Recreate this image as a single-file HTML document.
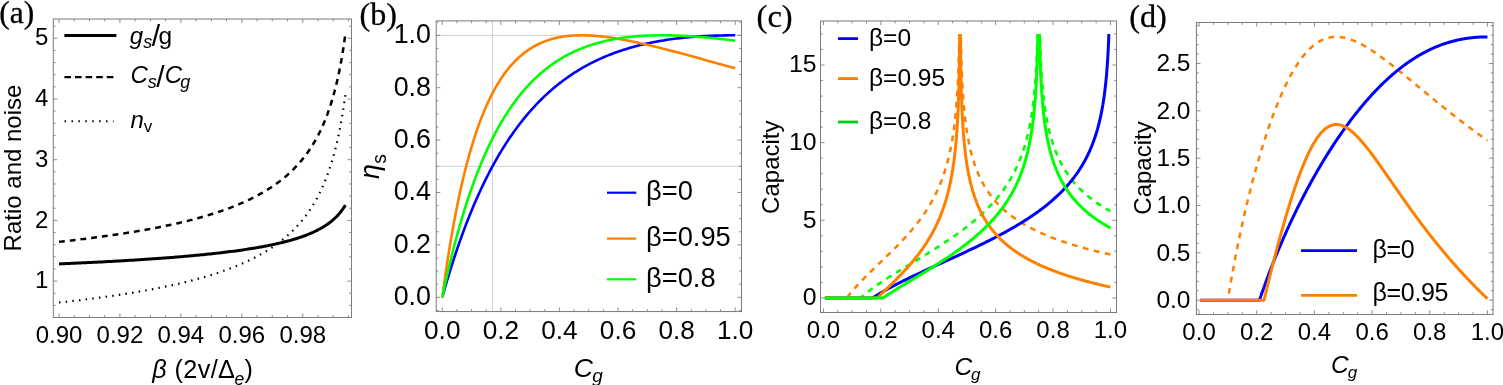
<!DOCTYPE html>
<html><head><meta charset="utf-8"><title>Figure</title>
<style>
html,body{margin:0;padding:0;background:#fff;}
body{width:1503px;height:385px;overflow:hidden;}
svg{display:block;}
svg text{font-family:"Liberation Sans", Arial, Helvetica, sans-serif;fill:#000;}
svg text.pl{font-family:"Liberation Serif", "Times New Roman", Times, serif;stroke:#000;stroke-width:0.3px;}
</style></head><body>
<svg width="1503" height="385" viewBox="0 0 1503 385">
<rect width="1503" height="385" fill="#fff"/>
<rect x="53.3" y="19" width="298.2" height="298.5" fill="none" stroke="#7b7b7b" stroke-width="1.0"/>
<path d="M59 317.5v-4.1M59 19v4.1M74.23 317.5v-2.4M74.23 19v2.4M89.47 317.5v-2.4M89.47 19v2.4M104.7 317.5v-2.4M104.7 19v2.4M119.94 317.5v-4.1M119.94 19v4.1M135.17 317.5v-2.4M135.17 19v2.4M150.41 317.5v-2.4M150.41 19v2.4M165.64 317.5v-2.4M165.64 19v2.4M180.88 317.5v-4.1M180.88 19v4.1M196.11 317.5v-2.4M196.11 19v2.4M211.34 317.5v-2.4M211.34 19v2.4M226.58 317.5v-2.4M226.58 19v2.4M241.81 317.5v-4.1M241.81 19v4.1M257.05 317.5v-2.4M257.05 19v2.4M272.28 317.5v-2.4M272.28 19v2.4M287.52 317.5v-2.4M287.52 19v2.4M302.75 317.5v-4.1M302.75 19v4.1M317.98 317.5v-2.4M317.98 19v2.4M333.22 317.5v-2.4M333.22 19v2.4M348.45 317.5v-2.4M348.45 19v2.4" stroke="#7b7b7b" stroke-width="0.85" fill="none"/>
<path d="M53.3 305.38h2.4M351.5 305.38h-2.4M53.3 293.24h2.4M351.5 293.24h-2.4M53.3 281.1h4.1M351.5 281.1h-4.1M53.3 268.96h2.4M351.5 268.96h-2.4M53.3 256.82h2.4M351.5 256.82h-2.4M53.3 244.68h2.4M351.5 244.68h-2.4M53.3 232.54h2.4M351.5 232.54h-2.4M53.3 220.4h4.1M351.5 220.4h-4.1M53.3 208.26h2.4M351.5 208.26h-2.4M53.3 196.12h2.4M351.5 196.12h-2.4M53.3 183.98h2.4M351.5 183.98h-2.4M53.3 171.84h2.4M351.5 171.84h-2.4M53.3 159.7h4.1M351.5 159.7h-4.1M53.3 147.56h2.4M351.5 147.56h-2.4M53.3 135.42h2.4M351.5 135.42h-2.4M53.3 123.28h2.4M351.5 123.28h-2.4M53.3 111.14h2.4M351.5 111.14h-2.4M53.3 99h4.1M351.5 99h-4.1M53.3 86.86h2.4M351.5 86.86h-2.4M53.3 74.72h2.4M351.5 74.72h-2.4M53.3 62.58h2.4M351.5 62.58h-2.4M53.3 50.44h2.4M351.5 50.44h-2.4M53.3 38.3h4.1M351.5 38.3h-4.1M53.3 26.16h2.4M351.5 26.16h-2.4" stroke="#7b7b7b" stroke-width="0.85" fill="none"/>
<text x="59" y="342.9" text-anchor="middle" font-size="24">0.90</text>
<text x="119.94" y="342.9" text-anchor="middle" font-size="24">0.92</text>
<text x="180.87" y="342.9" text-anchor="middle" font-size="24">0.94</text>
<text x="241.81" y="342.9" text-anchor="middle" font-size="24">0.96</text>
<text x="302.75" y="342.9" text-anchor="middle" font-size="24">0.98</text>
<text x="48.4" y="288.2" text-anchor="end" font-size="24">1</text>
<text x="48.4" y="227.5" text-anchor="end" font-size="24">2</text>
<text x="48.4" y="166.8" text-anchor="end" font-size="24">3</text>
<text x="48.4" y="106.1" text-anchor="end" font-size="24">4</text>
<text x="48.4" y="45.4" text-anchor="end" font-size="24">5</text>
<path d="M59 263.9L60.8 263.82L62.6 263.75L64.4 263.67L66.21 263.59L68.01 263.51L69.81 263.43L71.61 263.35L73.41 263.27L75.21 263.19L77.01 263.11L78.81 263.02L80.62 262.94L82.42 262.86L84.22 262.77L86.02 262.68L87.82 262.6L89.62 262.51L91.42 262.42L93.22 262.33L95.03 262.24L96.83 262.15L98.63 262.06L100.43 261.97L102.23 261.88L104.03 261.78L105.83 261.69L107.64 261.59L109.44 261.5L111.24 261.4L113.04 261.3L114.84 261.2L116.64 261.1L118.44 261L120.24 260.89L122.05 260.79L123.85 260.69L125.65 260.58L127.45 260.47L129.25 260.37L131.05 260.26L132.85 260.15L134.65 260.04L136.46 259.92L138.26 259.81L140.06 259.69L141.86 259.58L143.66 259.46L145.46 259.34L147.26 259.22L149.06 259.1L150.87 258.98L152.67 258.85L154.47 258.73L156.27 258.6L158.07 258.47L159.87 258.34L161.67 258.21L163.48 258.08L165.28 257.94L167.08 257.81L168.88 257.67L170.68 257.53L172.48 257.39L174.28 257.24L176.08 257.1L177.89 256.95L179.69 256.8L181.49 256.65L183.29 256.5L185.09 256.34L186.89 256.18L188.69 256.02L190.49 255.86L192.3 255.7L194.1 255.53L195.9 255.36L197.7 255.19L199.5 255.02L201.3 254.84L203.1 254.66L204.91 254.48L206.71 254.3L208.51 254.11L210.31 253.92L212.11 253.73L213.91 253.53L215.71 253.33L217.51 253.13L219.32 252.92L221.12 252.72L222.92 252.5L224.72 252.29L226.52 252.07L228.32 251.84L230.12 251.61L231.92 251.38L233.73 251.15L235.53 250.91L237.33 250.66L239.13 250.41L240.93 250.16L242.73 249.9L244.53 249.63L246.33 249.36L248.14 249.09L249.94 248.81L251.74 248.52L253.54 248.22L255.34 247.93L257.14 247.62L258.94 247.31L260.75 246.99L262.55 246.66L264.35 246.32L266.15 245.98L267.95 245.63L269.75 245.26L271.55 244.89L273.35 244.51L275.16 244.12L276.96 243.72L278.76 243.31L280.56 242.89L282.36 242.46L284.16 242.01L285.96 241.55L287.76 241.07L289.57 240.58L291.37 240.07L293.17 239.55L294.97 239.01L296.77 238.45L298.57 237.87L300.37 237.27L302.18 236.65L303.98 236L305.78 235.33L307.58 234.63L309.38 233.9L311.18 233.13L312.98 232.34L314.78 231.5L316.59 230.62L318.39 229.7L320.19 228.74L321.99 227.71L323.79 226.63L325.59 225.49L327.39 224.27L329.19 222.97L331 221.58L332.8 220.09L334.6 218.49L336.4 216.75L338.2 214.85L340 212.78L341.8 210.5L343.6 207.96L345.41 205.11" fill="none" stroke="#000" stroke-width="3.0" stroke-linejoin="round" stroke-linecap="butt"/>
<path d="M59 241.82L60.8 241.63L62.6 241.43L64.4 241.23L66.21 241.03L68.01 240.82L69.81 240.62L71.61 240.41L73.41 240.2L75.21 239.99L77.01 239.78L78.81 239.56L80.62 239.35L82.42 239.13L84.22 238.91L86.02 238.68L87.82 238.46L89.62 238.23L91.42 238L93.22 237.77L95.03 237.53L96.83 237.29L98.63 237.05L100.43 236.81L102.23 236.57L104.03 236.32L105.83 236.07L107.64 235.81L109.44 235.56L111.24 235.3L113.04 235.04L114.84 234.77L116.64 234.51L118.44 234.24L120.24 233.96L122.05 233.69L123.85 233.41L125.65 233.13L127.45 232.84L129.25 232.55L131.05 232.26L132.85 231.96L134.65 231.66L136.46 231.36L138.26 231.05L140.06 230.74L141.86 230.43L143.66 230.11L145.46 229.78L147.26 229.46L149.06 229.13L150.87 228.79L152.67 228.45L154.47 228.11L156.27 227.76L158.07 227.41L159.87 227.05L161.67 226.69L163.48 226.32L165.28 225.95L167.08 225.57L168.88 225.19L170.68 224.8L172.48 224.41L174.28 224.01L176.08 223.6L177.89 223.19L179.69 222.77L181.49 222.35L183.29 221.92L185.09 221.48L186.89 221.04L188.69 220.59L190.49 220.13L192.3 219.67L194.1 219.19L195.9 218.71L197.7 218.23L199.5 217.73L201.3 217.23L203.1 216.71L204.91 216.19L206.71 215.66L208.51 215.12L210.31 214.57L212.11 214.01L213.91 213.44L215.71 212.86L217.51 212.27L219.32 211.67L221.12 211.06L222.92 210.43L224.72 209.8L226.52 209.15L228.32 208.48L230.12 207.81L231.92 207.12L233.73 206.41L235.53 205.69L237.33 204.96L239.13 204.21L240.93 203.44L242.73 202.65L244.53 201.85L246.33 201.03L248.14 200.19L249.94 199.33L251.74 198.45L253.54 197.54L255.34 196.62L257.14 195.67L258.94 194.7L260.75 193.7L262.55 192.67L264.35 191.62L266.15 190.53L267.95 189.42L269.75 188.27L271.55 187.09L273.35 185.88L275.16 184.63L276.96 183.34L278.76 182L280.56 180.63L282.36 179.21L284.16 177.74L285.96 176.22L287.76 174.64L289.57 173.01L291.37 171.32L293.17 169.56L294.97 167.74L296.77 165.84L298.57 163.86L300.37 161.8L302.18 159.64L303.98 157.39L305.78 155.04L307.58 152.57L309.38 149.98L311.18 147.26L312.98 144.39L314.78 141.37L316.59 138.17L318.39 134.79L320.19 131.2L321.99 127.37L323.79 123.29L325.59 118.92L327.39 114.23L329.19 109.18L331 103.71L332.8 97.77L334.6 91.29L336.4 84.17L338.2 76.31L340 67.57L341.8 57.77L343.6 46.67L345.41 33.98" fill="none" stroke="#000" stroke-width="2.5" stroke-linejoin="round" stroke-linecap="butt" stroke-dasharray="5.8 5"/>
<path d="M59 302.52L60.8 302.33L62.6 302.13L64.4 301.93L66.21 301.73L68.01 301.52L69.81 301.32L71.61 301.11L73.41 300.9L75.21 300.69L77.01 300.48L78.81 300.26L80.62 300.05L82.42 299.83L84.22 299.61L86.02 299.38L87.82 299.16L89.62 298.93L91.42 298.7L93.22 298.47L95.03 298.23L96.83 297.99L98.63 297.75L100.43 297.51L102.23 297.27L104.03 297.02L105.83 296.77L107.64 296.51L109.44 296.26L111.24 296L113.04 295.74L114.84 295.47L116.64 295.21L118.44 294.94L120.24 294.66L122.05 294.39L123.85 294.11L125.65 293.83L127.45 293.54L129.25 293.25L131.05 292.96L132.85 292.66L134.65 292.36L136.46 292.06L138.26 291.75L140.06 291.44L141.86 291.13L143.66 290.81L145.46 290.48L147.26 290.16L149.06 289.83L150.87 289.49L152.67 289.15L154.47 288.81L156.27 288.46L158.07 288.11L159.87 287.75L161.67 287.39L163.48 287.02L165.28 286.65L167.08 286.27L168.88 285.89L170.68 285.5L172.48 285.11L174.28 284.71L176.08 284.3L177.89 283.89L179.69 283.47L181.49 283.05L183.29 282.62L185.09 282.18L186.89 281.74L188.69 281.29L190.49 280.83L192.3 280.37L194.1 279.89L195.9 279.41L197.7 278.93L199.5 278.43L201.3 277.93L203.1 277.41L204.91 276.89L206.71 276.36L208.51 275.82L210.31 275.27L212.11 274.71L213.91 274.14L215.71 273.56L217.51 272.97L219.32 272.37L221.12 271.76L222.92 271.13L224.72 270.5L226.52 269.85L228.32 269.18L230.12 268.51L231.92 267.82L233.73 267.11L235.53 266.39L237.33 265.66L239.13 264.91L240.93 264.14L242.73 263.35L244.53 262.55L246.33 261.73L248.14 260.89L249.94 260.03L251.74 259.15L253.54 258.24L255.34 257.32L257.14 256.37L258.94 255.4L260.75 254.4L262.55 253.37L264.35 252.32L266.15 251.23L267.95 250.12L269.75 248.97L271.55 247.79L273.35 246.58L275.16 245.33L276.96 244.04L278.76 242.7L280.56 241.33L282.36 239.91L284.16 238.44L285.96 236.92L287.76 235.34L289.57 233.71L291.37 232.02L293.17 230.26L294.97 228.44L296.77 226.54L298.57 224.56L300.37 222.5L302.18 220.34L303.98 218.09L305.78 215.74L307.58 213.27L309.38 210.68L311.18 207.96L312.98 205.09L314.78 202.07L316.59 198.87L318.39 195.49L320.19 191.9L321.99 188.07L323.79 183.99L325.59 179.62L327.39 174.93L329.19 169.88L331 164.41L332.8 158.47L334.6 151.99L336.4 144.87L338.2 137.01L340 128.27L341.8 118.47L343.6 107.37L345.41 94.68" fill="none" stroke="#000" stroke-width="2.2" stroke-linejoin="round" stroke-linecap="butt" stroke-dasharray="1.5 5.2"/>
<path d="M64.4 35.4L116.4 35.4" stroke="#000" stroke-width="3.0" fill="none"/>
<path d="M64.4 77.1L113.6 77.1" stroke="#000" stroke-width="2.3" fill="none" stroke-dasharray="6.6 4"/>
<path d="M64.6 121.3L113.6 121.3" stroke="#000" stroke-width="2.1" fill="none" stroke-dasharray="1.5 5.4"/>
<text x="129.8" y="43.5" font-size="24" text-anchor="start"><tspan font-style="italic">g</tspan><tspan font-style="italic" font-size="18" dy="4.5">s</tspan><tspan font-size="30" dy="-2.4" dx="-0.3">/</tspan><tspan font-size="24.5" dy="-2.1" dx="-1.6">g</tspan></text>
<text x="130.5" y="83" font-size="24" text-anchor="start"><tspan font-style="italic">C</tspan><tspan font-style="italic" font-size="18" dy="4.8">s</tspan><tspan font-size="30" dy="-1.0" dx="-0.6">/</tspan><tspan font-style="italic" dy="-3.8" dx="0.2">C</tspan><tspan font-style="italic" font-size="18" dy="4.8" dx="-1.9">g</tspan></text>
<text x="130.5" y="127.6" font-size="24" text-anchor="start"><tspan font-style="italic">n</tspan><tspan font-size="17" dy="4.6">v</tspan></text>
<text x="152.3" y="378" font-size="25.2" text-anchor="start" letter-spacing="0.4"><tspan font-style="italic">β</tspan> (2v/Δ<tspan font-style="italic" font-size="17.5" dy="6.5" dx="-0.9">e</tspan><tspan dy="-6.5">)</tspan></text>
<text transform="translate(21.3,168) rotate(-90)" font-size="24" text-anchor="middle">Ratio and noise</text>
<text x="-0.8" y="22.6" font-size="31.5" text-anchor="start" class="pl">(a)</text>
<path d="M492.51 20.9L492.51 311.55" stroke="#c4c4c4" stroke-width="0.8" fill="none"/>
<path d="M436.2 166.3L741.5 166.3" stroke="#c4c4c4" stroke-width="0.8" fill="none"/>
<path d="M436.2 35.3L741.5 35.3" stroke="#c4c4c4" stroke-width="0.8" fill="none"/>
<rect x="436.2" y="20.9" width="305.3" height="290.65" fill="none" stroke="#7b7b7b" stroke-width="1.0"/>
<path d="M442.25 311.55v-4.1M442.25 20.9v4.1M456.9 311.55v-2.4M456.9 20.9v2.4M471.55 311.55v-2.4M471.55 20.9v2.4M486.19 311.55v-2.4M486.19 20.9v2.4M500.84 311.55v-4.1M500.84 20.9v4.1M515.49 311.55v-2.4M515.49 20.9v2.4M530.13 311.55v-2.4M530.13 20.9v2.4M544.78 311.55v-2.4M544.78 20.9v2.4M559.43 311.55v-4.1M559.43 20.9v4.1M574.08 311.55v-2.4M574.08 20.9v2.4M588.73 311.55v-2.4M588.73 20.9v2.4M603.37 311.55v-2.4M603.37 20.9v2.4M618.02 311.55v-4.1M618.02 20.9v4.1M632.67 311.55v-2.4M632.67 20.9v2.4M647.32 311.55v-2.4M647.32 20.9v2.4M661.96 311.55v-2.4M661.96 20.9v2.4M676.61 311.55v-4.1M676.61 20.9v4.1M691.26 311.55v-2.4M691.26 20.9v2.4M705.9 311.55v-2.4M705.9 20.9v2.4M720.55 311.55v-2.4M720.55 20.9v2.4M735.2 311.55v-4.1M735.2 20.9v4.1" stroke="#7b7b7b" stroke-width="0.85" fill="none"/>
<path d="M436.2 310.4h2.4M741.5 310.4h-2.4M436.2 297.3h4.1M741.5 297.3h-4.1M436.2 284.2h2.4M741.5 284.2h-2.4M436.2 271.1h2.4M741.5 271.1h-2.4M436.2 258h2.4M741.5 258h-2.4M436.2 244.9h4.1M741.5 244.9h-4.1M436.2 231.8h2.4M741.5 231.8h-2.4M436.2 218.7h2.4M741.5 218.7h-2.4M436.2 205.6h2.4M741.5 205.6h-2.4M436.2 192.5h4.1M741.5 192.5h-4.1M436.2 179.4h2.4M741.5 179.4h-2.4M436.2 166.3h2.4M741.5 166.3h-2.4M436.2 153.2h2.4M741.5 153.2h-2.4M436.2 140.1h4.1M741.5 140.1h-4.1M436.2 127h2.4M741.5 127h-2.4M436.2 113.9h2.4M741.5 113.9h-2.4M436.2 100.8h2.4M741.5 100.8h-2.4M436.2 87.7h4.1M741.5 87.7h-4.1M436.2 74.6h2.4M741.5 74.6h-2.4M436.2 61.5h2.4M741.5 61.5h-2.4M436.2 48.4h2.4M741.5 48.4h-2.4M436.2 35.3h4.1M741.5 35.3h-4.1M436.2 22.2h2.4M741.5 22.2h-2.4" stroke="#7b7b7b" stroke-width="0.85" fill="none"/>
<text x="442.25" y="338.8" text-anchor="middle" font-size="26.2">0.0</text>
<text x="500.84" y="338.8" text-anchor="middle" font-size="26.2">0.2</text>
<text x="559.43" y="338.8" text-anchor="middle" font-size="26.2">0.4</text>
<text x="618.02" y="338.8" text-anchor="middle" font-size="26.2">0.6</text>
<text x="676.61" y="338.8" text-anchor="middle" font-size="26.2">0.8</text>
<text x="735.2" y="338.8" text-anchor="middle" font-size="26.2">1.0</text>
<text x="430.9" y="305.1" text-anchor="end" font-size="26.8">0.0</text>
<text x="430.9" y="252.7" text-anchor="end" font-size="26.8">0.2</text>
<text x="430.9" y="200.3" text-anchor="end" font-size="26.8">0.4</text>
<text x="430.9" y="147.9" text-anchor="end" font-size="26.8">0.6</text>
<text x="430.9" y="95.5" text-anchor="end" font-size="26.8">0.8</text>
<text x="430.9" y="43.1" text-anchor="end" font-size="26.8">1.0</text>
<path d="M442.25 297.3L444.09 290.79L445.93 284.44L447.78 278.25L449.62 272.21L451.46 266.32L453.3 260.58L455.15 254.97L456.99 249.5L458.83 244.16L460.67 238.96L462.52 233.88L464.36 228.92L466.2 224.08L468.04 219.35L469.89 214.74L471.73 210.24L473.57 205.85L475.41 201.56L477.26 197.38L479.1 193.29L480.94 189.3L482.78 185.4L484.63 181.6L486.47 177.88L488.31 174.26L490.15 170.71L492 167.25L493.84 163.88L495.68 160.58L497.52 157.36L499.37 154.21L501.21 151.14L503.05 148.13L504.89 145.2L506.74 142.34L508.58 139.54L510.42 136.81L512.26 134.14L514.11 131.54L515.95 128.99L517.79 126.5L519.63 124.07L521.48 121.7L523.32 119.38L525.16 117.12L527 114.91L528.85 112.75L530.69 110.64L532.53 108.58L534.37 106.56L536.22 104.6L538.06 102.68L539.9 100.8L541.74 98.97L543.58 97.18L545.43 95.43L547.27 93.72L549.11 92.06L550.95 90.43L552.8 88.84L554.64 87.29L556.48 85.77L558.32 84.29L560.17 82.85L562.01 81.44L563.85 80.06L565.69 78.72L567.54 77.4L569.38 76.12L571.22 74.87L573.06 73.65L574.91 72.46L576.75 71.3L578.59 70.17L580.43 69.06L582.28 67.98L584.12 66.93L585.96 65.9L587.8 64.9L589.65 63.93L591.49 62.97L593.33 62.05L595.17 61.14L597.02 60.26L598.86 59.4L600.7 58.56L602.54 57.74L604.39 56.95L606.23 56.17L608.07 55.42L609.91 54.68L611.76 53.97L613.6 53.27L615.44 52.59L617.28 51.93L619.13 51.29L620.97 50.67L622.81 50.06L624.65 49.47L626.5 48.9L628.34 48.34L630.18 47.8L632.02 47.27L633.87 46.76L635.71 46.26L637.55 45.78L639.39 45.31L641.23 44.86L643.08 44.42L644.92 43.99L646.76 43.58L648.6 43.18L650.45 42.79L652.29 42.42L654.13 42.06L655.97 41.71L657.82 41.37L659.66 41.04L661.5 40.72L663.34 40.42L665.19 40.13L667.03 39.84L668.87 39.57L670.71 39.31L672.56 39.06L674.4 38.81L676.24 38.58L678.08 38.36L679.93 38.14L681.77 37.94L683.61 37.74L685.45 37.56L687.3 37.38L689.14 37.21L690.98 37.05L692.82 36.89L694.67 36.75L696.51 36.61L698.35 36.48L700.19 36.36L702.04 36.24L703.88 36.14L705.72 36.04L707.56 35.94L709.41 35.86L711.25 35.78L713.09 35.7L714.93 35.64L716.78 35.58L718.62 35.52L720.46 35.47L722.3 35.43L724.15 35.4L725.99 35.37L727.83 35.34L729.67 35.32L731.52 35.31L733.36 35.3L735.2 35.3" fill="none" stroke="#0000ff" stroke-width="2.6" stroke-linejoin="round" stroke-linecap="butt"/>
<path d="M442.25 297.3L444.09 283.81L445.93 271.01L447.78 258.86L449.62 247.32L451.46 236.37L453.3 225.96L455.15 216.07L456.99 206.68L458.83 197.74L460.67 189.25L462.52 181.17L464.36 173.49L466.2 166.18L468.04 159.22L469.89 152.6L471.73 146.31L473.57 140.31L475.41 134.61L477.26 129.18L479.1 124.01L480.94 119.09L482.78 114.41L484.63 109.95L486.47 105.71L488.31 101.67L490.15 97.83L492 94.17L493.84 90.69L495.68 87.39L497.52 84.24L499.37 81.24L501.21 78.4L503.05 75.69L504.89 73.12L506.74 70.68L508.58 68.36L510.42 66.16L512.26 64.07L514.11 62.09L515.95 60.21L517.79 58.43L519.63 56.75L521.48 55.16L523.32 53.65L525.16 52.22L527 50.88L528.85 49.61L530.69 48.41L532.53 47.29L534.37 46.23L536.22 45.24L538.06 44.3L539.9 43.43L541.74 42.62L543.58 41.85L545.43 41.15L547.27 40.49L549.11 39.88L550.95 39.31L552.8 38.79L554.64 38.32L556.48 37.88L558.32 37.49L560.17 37.13L562.01 36.81L563.85 36.52L565.69 36.27L567.54 36.05L569.38 35.86L571.22 35.7L573.06 35.57L574.91 35.46L576.75 35.38L578.59 35.33L580.43 35.31L582.28 35.3L584.12 35.32L585.96 35.36L587.8 35.42L589.65 35.5L591.49 35.6L593.33 35.72L595.17 35.86L597.02 36.01L598.86 36.18L600.7 36.37L602.54 36.57L604.39 36.79L606.23 37.02L608.07 37.26L609.91 37.52L611.76 37.79L613.6 38.07L615.44 38.36L617.28 38.66L619.13 38.98L620.97 39.3L622.81 39.63L624.65 39.97L626.5 40.33L628.34 40.69L630.18 41.06L632.02 41.43L633.87 41.81L635.71 42.21L637.55 42.6L639.39 43.01L641.23 43.42L643.08 43.84L644.92 44.26L646.76 44.69L648.6 45.12L650.45 45.56L652.29 46L654.13 46.45L655.97 46.9L657.82 47.36L659.66 47.82L661.5 48.28L663.34 48.75L665.19 49.22L667.03 49.69L668.87 50.17L670.71 50.65L672.56 51.13L674.4 51.62L676.24 52.11L678.08 52.6L679.93 53.09L681.77 53.58L683.61 54.08L685.45 54.58L687.3 55.08L689.14 55.58L690.98 56.08L692.82 56.59L694.67 57.09L696.51 57.6L698.35 58.1L700.19 58.61L702.04 59.12L703.88 59.63L705.72 60.14L707.56 60.65L709.41 61.16L711.25 61.68L713.09 62.19L714.93 62.7L716.78 63.21L718.62 63.73L720.46 64.24L722.3 64.75L724.15 65.26L725.99 65.78L727.83 66.29L729.67 66.8L731.52 67.31L733.36 67.83L735.2 68.34" fill="none" stroke="#ff8000" stroke-width="2.6" stroke-linejoin="round" stroke-linecap="butt"/>
<path d="M442.25 297.3L444.09 288.66L445.93 280.3L447.78 272.21L449.62 264.39L451.46 256.82L453.3 249.5L455.15 242.41L456.99 235.56L458.83 228.92L460.67 222.49L462.52 216.27L464.36 210.24L466.2 204.41L468.04 198.76L469.89 193.29L471.73 187.99L473.57 182.86L475.41 177.88L477.26 173.07L479.1 168.4L480.94 163.88L482.78 159.49L484.63 155.25L486.47 151.14L488.31 147.15L490.15 143.29L492 139.54L493.84 135.91L495.68 132.4L497.52 128.99L499.37 125.69L501.21 122.48L503.05 119.38L504.89 116.38L506.74 113.46L508.58 110.64L510.42 107.9L512.26 105.25L514.11 102.68L515.95 100.18L517.79 97.77L519.63 95.43L521.48 93.16L523.32 90.97L525.16 88.84L527 86.78L528.85 84.78L530.69 82.85L532.53 80.98L534.37 79.16L536.22 77.4L538.06 75.7L539.9 74.06L541.74 72.46L543.58 70.92L545.43 69.43L547.27 67.98L549.11 66.59L550.95 65.23L552.8 63.93L554.64 62.66L556.48 61.44L558.32 60.26L560.17 59.12L562.01 58.01L563.85 56.95L565.69 55.92L567.54 54.93L569.38 53.97L571.22 53.04L573.06 52.15L574.91 51.29L576.75 50.46L578.59 49.66L580.43 48.9L582.28 48.16L584.12 47.44L585.96 46.76L587.8 46.1L589.65 45.47L591.49 44.86L593.33 44.28L595.17 43.72L597.02 43.18L598.86 42.67L600.7 42.18L602.54 41.71L604.39 41.26L606.23 40.83L608.07 40.42L609.91 40.03L611.76 39.66L613.6 39.31L615.44 38.97L617.28 38.66L619.13 38.36L620.97 38.07L622.81 37.81L624.65 37.56L626.5 37.32L628.34 37.1L630.18 36.89L632.02 36.7L633.87 36.52L635.71 36.36L637.55 36.21L639.39 36.07L641.23 35.94L643.08 35.83L644.92 35.73L646.76 35.64L648.6 35.56L650.45 35.49L652.29 35.43L654.13 35.39L655.97 35.35L657.82 35.32L659.66 35.31L661.5 35.3L663.34 35.3L665.19 35.31L667.03 35.33L668.87 35.36L670.71 35.4L672.56 35.45L674.4 35.5L676.24 35.56L678.08 35.63L679.93 35.7L681.77 35.79L683.61 35.88L685.45 35.97L687.3 36.08L689.14 36.19L690.98 36.31L692.82 36.43L694.67 36.56L696.51 36.69L698.35 36.83L700.19 36.98L702.04 37.13L703.88 37.29L705.72 37.45L707.56 37.62L709.41 37.79L711.25 37.96L713.09 38.15L714.93 38.33L716.78 38.52L718.62 38.72L720.46 38.92L722.3 39.12L724.15 39.33L725.99 39.54L727.83 39.75L729.67 39.97L731.52 40.19L733.36 40.42L735.2 40.65" fill="none" stroke="#00ff00" stroke-width="2.6" stroke-linejoin="round" stroke-linecap="butt"/>
<path d="M607 192.7L636.3 192.7" stroke="#0000ff" stroke-width="2.2" fill="none"/>
<text x="646" y="199.5" font-size="27.3" text-anchor="start">β=0</text>
<path d="M607 238.6L636.3 238.6" stroke="#ff8000" stroke-width="2.2" fill="none"/>
<text x="646" y="245.5" font-size="27.3" text-anchor="start">β=0.95</text>
<path d="M607 279.3L636.3 279.3" stroke="#00ff00" stroke-width="2.2" fill="none"/>
<text x="646" y="287.3" font-size="27.3" text-anchor="start">β=0.8</text>
<text x="573.8" y="377" font-size="26.6" text-anchor="start"><tspan font-style="italic">C</tspan><tspan font-style="italic" font-size="19" dy="5" dx="-0.8">g</tspan></text>
<text transform="translate(379.2,166.6) rotate(-90)" font-size="27" text-anchor="middle"><tspan font-style="italic">η</tspan><tspan font-size="19.5" dy="6.5" dx="0.3">s</tspan></text>
<text x="359.6" y="24.9" font-size="32" text-anchor="start" class="pl">(b)</text>
<rect x="820.5" y="21" width="296" height="291.5" fill="none" stroke="#7b7b7b" stroke-width="1.0"/>
<path d="M823.45 312.5v-4.1M823.45 21v4.1M837.8 312.5v-2.4M837.8 21v2.4M852.15 312.5v-2.4M852.15 21v2.4M866.5 312.5v-2.4M866.5 21v2.4M880.85 312.5v-4.1M880.85 21v4.1M895.2 312.5v-2.4M895.2 21v2.4M909.55 312.5v-2.4M909.55 21v2.4M923.9 312.5v-2.4M923.9 21v2.4M938.25 312.5v-4.1M938.25 21v4.1M952.6 312.5v-2.4M952.6 21v2.4M966.95 312.5v-2.4M966.95 21v2.4M981.3 312.5v-2.4M981.3 21v2.4M995.65 312.5v-4.1M995.65 21v4.1M1010 312.5v-2.4M1010 21v2.4M1024.35 312.5v-2.4M1024.35 21v2.4M1038.7 312.5v-2.4M1038.7 21v2.4M1053.05 312.5v-4.1M1053.05 21v4.1M1067.4 312.5v-2.4M1067.4 21v2.4M1081.75 312.5v-2.4M1081.75 21v2.4M1096.1 312.5v-2.4M1096.1 21v2.4M1110.45 312.5v-4.1M1110.45 21v4.1" stroke="#7b7b7b" stroke-width="0.85" fill="none"/>
<path d="M820.5 297.9h4.1M1116.5 297.9h-4.1M820.5 282.37h2.4M1116.5 282.37h-2.4M820.5 266.85h2.4M1116.5 266.85h-2.4M820.5 251.32h2.4M1116.5 251.32h-2.4M820.5 235.79h2.4M1116.5 235.79h-2.4M820.5 220.27h4.1M1116.5 220.27h-4.1M820.5 204.74h2.4M1116.5 204.74h-2.4M820.5 189.21h2.4M1116.5 189.21h-2.4M820.5 173.69h2.4M1116.5 173.69h-2.4M820.5 158.16h2.4M1116.5 158.16h-2.4M820.5 142.63h4.1M1116.5 142.63h-4.1M820.5 127.11h2.4M1116.5 127.11h-2.4M820.5 111.58h2.4M1116.5 111.58h-2.4M820.5 96.05h2.4M1116.5 96.05h-2.4M820.5 80.53h2.4M1116.5 80.53h-2.4M820.5 65h4.1M1116.5 65h-4.1M820.5 49.47h2.4M1116.5 49.47h-2.4M820.5 33.95h2.4M1116.5 33.95h-2.4" stroke="#7b7b7b" stroke-width="0.85" fill="none"/>
<text x="823.45" y="338" text-anchor="middle" font-size="24">0.0</text>
<text x="880.85" y="338" text-anchor="middle" font-size="24">0.2</text>
<text x="938.25" y="338" text-anchor="middle" font-size="24">0.4</text>
<text x="995.65" y="338" text-anchor="middle" font-size="24">0.6</text>
<text x="1053.05" y="338" text-anchor="middle" font-size="24">0.8</text>
<text x="1110.45" y="338" text-anchor="middle" font-size="24">1.0</text>
<text x="816.5" y="305.3" text-anchor="end" font-size="24.8">0</text>
<text x="816.5" y="227.67" text-anchor="end" font-size="24.8">5</text>
<text x="816.5" y="150.03" text-anchor="end" font-size="24.8">10</text>
<text x="816.5" y="72.4" text-anchor="end" font-size="24.8">15</text>
<clipPath id="clipC"><rect x="820.5" y="33.95" width="296" height="278.55"/></clipPath>
<path d="M824.88 297.9L825.99 297.9L827.09 297.9L828.19 297.9L829.3 297.9L830.4 297.9L831.5 297.9L832.6 297.9L833.71 297.9L834.81 297.9L835.91 297.9L837.01 297.9L838.12 297.9L839.22 297.9L840.32 297.9L841.42 297.9L842.53 297.9L843.63 297.9L844.73 297.9L845.83 297.9L846.94 297.83L848.04 296.36L849.14 294.94L850.24 293.55L851.35 292.19L852.45 290.87L853.55 289.57L854.65 288.3L855.76 287.05L856.86 285.82L857.96 284.61L859.06 283.42L860.17 282.25L861.27 281.09L862.37 279.94L863.47 278.81L864.58 277.68L865.68 276.57L866.78 275.47L867.89 274.37L868.99 273.28L870.09 272.2L871.19 271.12L872.3 270.05L873.4 268.99L874.5 267.92L875.6 266.86L876.71 265.81L877.81 264.75L878.91 263.7L880.01 262.64L881.12 261.59L882.22 260.53L883.32 259.48L884.42 258.42L885.53 257.36L886.63 256.3L887.73 255.23L888.83 254.16L889.94 253.09L891.04 252.01L892.14 250.93L893.24 249.84L894.35 248.74L895.45 247.63L896.55 246.52L897.65 245.4L898.76 244.27L899.86 243.13L900.96 241.98L902.06 240.82L903.17 239.65L904.27 238.47L905.37 237.27L906.48 236.06L907.58 234.83L908.68 233.59L909.78 232.33L910.89 231.05L911.99 229.75L913.09 228.43L914.19 227.09L915.3 225.73L916.4 224.35L917.5 222.94L918.6 221.5L919.71 220.03L920.81 218.54L921.91 217.01L923.01 215.44L924.12 213.84L925.22 212.2L926.32 210.52L927.42 208.79L928.53 207.01L929.63 205.18L930.73 203.3L931.83 201.35L932.94 199.33L934.04 197.25L935.14 195.08L936.24 192.84L937.35 190.49L938.45 188.04L939.55 185.48L940.65 182.79L941.76 179.96L942.86 176.96L943.96 173.78L945.06 170.39L946.17 166.76L947.27 162.85L948.37 158.6L949.48 153.96L950.58 148.82L950.96 146.92L951.68 143.07L952.42 138.79L952.78 136.54L953.65 130.71L953.89 128.96L954.67 122.67L954.99 119.92L955.54 114.66L956.09 108.68L956.26 106.67L956.87 98.7L957.19 93.8L957.38 90.74L957.81 82.8L958.17 74.88L958.3 71.61L958.47 66.96L958.72 59.05L958.93 51.14L959.11 43.25L959.26 35.35L959.38 27.47L959.4 26.33L959.49 19.58L959.57 11.7L959.65 3.82L959.71 -4.06L959.76 -11.94L959.81 -19.81L959.84 -27.68L959.87 -35.56L959.9 -43.43L959.92 -51.3L959.94 -59.17L959.95 -67.04L959.97 -74.91L959.98 -82.78L959.99 -90.65L959.99 -98.52L960 -106.39L960.01 -114.26L960.01 -122.13L960.01 -130L960.02 -137.86L960.02 -145.73L960.02 -153.6L960.02 -161.47L960.03 -169.34L960.03 -177.21L960.03 -185.07L960.03 -192.94L960.03 -200.81L960.03 -208.68L960.03 -216.55L960.03 -224.41L960.03 -232.28L960.03 -240.15L960.03 -248.02L960.03 -255.89L960.03 -263.75L960.03 -271.62L960.03 -279.49L960.03 -287.36L960.03 -295.23L960.03 -303.09L960.03 -310.96L960.03 -318.83L960.03 -633.7L960.03 -318.83L960.03 -310.96L960.03 -303.09L960.03 -295.23L960.03 -287.36L960.03 -279.49L960.03 -271.62L960.03 -263.75L960.03 -255.89L960.03 -248.02L960.03 -240.15L960.04 -232.28L960.04 -224.41L960.04 -216.55L960.04 -208.68L960.04 -200.81L960.04 -192.94L960.04 -185.08L960.04 -177.21L960.04 -169.34L960.04 -161.47L960.04 -153.6L960.05 -145.74L960.05 -137.87L960.05 -130L960.06 -122.13L960.06 -114.27L960.07 -106.4L960.07 -98.53L960.08 -90.67L960.09 -82.8L960.1 -74.93L960.11 -67.07L960.13 -59.2L960.15 -51.34L960.17 -43.47L960.19 -35.61L960.22 -27.75L960.26 -19.89L960.3 -12.02L960.36 -4.17L960.42 3.69L960.49 11.55L960.5 12.42L960.58 19.4L960.68 27.25L960.81 35.1L960.96 42.94L961.14 50.78L961.35 58.62L961.6 66.44L961.6 66.52L961.9 74.26L962.26 82.07L962.69 89.87L962.71 90.17L963.2 97.66L963.8 105.43L963.81 105.47L964.53 113.18L964.91 116.77L965.39 120.91L966.01 125.73L966.42 128.62L967.12 133.14L967.65 136.29L968.22 139.45L969.11 143.94L969.32 144.94L970.42 149.8L971.53 154.15L972.63 158.09L973.73 161.68L974.83 164.98L975.94 168.04L977.04 170.88L978.14 173.54L979.24 176.03L980.35 178.37L981.45 180.58L982.55 182.67L983.65 184.66L984.76 186.55L985.86 188.35L986.96 190.07L988.07 191.72L989.17 193.3L990.27 194.81L991.37 196.27L992.48 197.67L993.58 199.02L994.68 200.33L995.78 201.59L996.89 202.81L997.99 203.99L999.09 205.13L1000.19 206.23L1001.3 207.31L1002.4 208.35L1003.5 209.36L1004.6 210.35L1005.71 211.31L1006.81 212.24L1007.91 213.15L1009.01 214.04L1010.12 214.9L1011.22 215.75L1012.32 216.57L1013.42 217.37L1014.53 218.16L1015.63 218.93L1016.73 219.68L1017.83 220.42L1018.94 221.14L1020.04 221.84L1021.14 222.53L1022.24 223.21L1023.35 223.87L1024.45 224.52L1025.55 225.16L1026.65 225.78L1027.76 226.4L1028.86 227L1029.96 227.59L1031.07 228.18L1032.17 228.75L1033.27 229.31L1034.37 229.86L1035.48 230.4L1036.58 230.94L1037.68 231.46L1038.78 231.98L1039.89 232.49L1040.99 232.99L1042.09 233.48L1043.19 233.97L1044.3 234.44L1045.4 234.92L1046.5 235.38L1047.6 235.84L1048.71 236.29L1049.81 236.73L1050.91 237.17L1052.01 237.6L1053.12 238.03L1054.22 238.45L1055.32 238.86L1056.42 239.27L1057.53 239.67L1058.63 240.07L1059.73 240.47L1060.83 240.86L1061.94 241.24L1063.04 241.62L1064.14 241.99L1065.24 242.36L1066.35 242.73L1067.45 243.09L1068.55 243.44L1069.65 243.8L1070.76 244.14L1071.86 244.49L1072.96 244.83L1074.07 245.17L1075.17 245.5L1076.27 245.83L1077.37 246.15L1078.48 246.47L1079.58 246.79L1080.68 247.11L1081.78 247.42L1082.89 247.73L1083.99 248.03L1085.09 248.34L1086.19 248.64L1087.3 248.93L1088.4 249.22L1089.5 249.51L1090.6 249.8L1091.71 250.09L1092.81 250.37L1093.91 250.65L1095.01 250.92L1096.12 251.2L1097.22 251.47L1098.32 251.74L1099.42 252L1100.53 252.27L1101.63 252.53L1102.73 252.79L1103.83 253.04L1104.94 253.3L1106.04 253.55L1107.14 253.8L1108.24 254.05L1109.35 254.29L1110.45 254.54" fill="none" stroke="#ff8000" stroke-width="2.5" stroke-linejoin="round" stroke-linecap="butt" stroke-dasharray="5.8 5.5" clip-path="url(#clipC)"/>
<path d="M824.88 297.9L825.99 297.9L827.09 297.9L828.19 297.9L829.3 297.9L830.4 297.9L831.5 297.9L832.6 297.9L833.71 297.9L834.81 297.9L835.91 297.9L837.01 297.9L838.12 297.9L839.22 297.9L840.32 297.9L841.42 297.9L842.53 297.9L843.63 297.9L844.73 297.9L845.83 297.9L846.94 297.9L848.04 297.9L849.14 297.9L850.24 297.9L851.35 297.9L852.45 297.9L853.55 297.9L854.65 297.9L855.76 297.9L856.86 297.9L857.96 297.9L859.06 297.9L860.17 297.9L861.27 297.14L862.37 296.22L863.47 295.31L864.58 294.42L865.68 293.55L866.78 292.68L867.89 291.83L868.99 290.99L870.09 290.16L871.19 289.35L872.3 288.54L873.4 287.74L874.5 286.95L875.6 286.17L876.71 285.4L877.81 284.63L878.91 283.88L880.01 283.12L881.12 282.38L882.22 281.64L883.32 280.91L884.42 280.18L885.53 279.46L886.63 278.74L887.73 278.03L888.83 277.32L889.94 276.61L891.04 275.91L892.14 275.21L893.24 274.52L894.35 273.82L895.45 273.14L896.55 272.45L897.65 271.76L898.76 271.08L899.86 270.4L900.96 269.72L902.06 269.05L903.17 268.37L904.27 267.7L905.37 267.03L906.48 266.36L907.58 265.68L908.68 265.01L909.78 264.35L910.89 263.68L911.99 263.01L913.09 262.34L914.19 261.67L915.3 261L916.4 260.33L917.5 259.66L918.6 258.99L919.71 258.32L920.81 257.65L921.91 256.97L923.01 256.3L924.12 255.62L925.22 254.95L926.32 254.27L927.42 253.59L928.53 252.91L929.63 252.22L930.73 251.53L931.83 250.85L932.94 250.15L934.04 249.46L935.14 248.76L936.24 248.06L937.35 247.36L938.45 246.66L939.55 245.95L940.65 245.23L941.76 244.52L942.86 243.8L943.96 243.07L945.06 242.34L946.17 241.61L947.27 240.87L948.37 240.13L949.48 239.38L950.58 238.63L951.68 237.88L952.78 237.11L953.89 236.34L954.99 235.57L956.09 234.79L957.19 234L958.3 233.21L959.4 232.41L960.5 231.6L961.6 230.78L962.71 229.96L963.81 229.13L964.91 228.29L966.01 227.44L967.12 226.58L968.22 225.71L969.32 224.84L970.42 223.95L971.53 223.05L972.63 222.15L973.73 221.23L974.83 220.3L975.94 219.36L977.04 218.4L978.14 217.43L979.24 216.45L980.35 215.45L981.45 214.44L982.55 213.41L983.65 212.37L984.76 211.31L985.86 210.23L986.96 209.14L988.07 208.02L989.17 206.89L990.27 205.73L991.37 204.55L992.48 203.35L993.58 202.12L994.68 200.87L995.78 199.59L996.89 198.28L997.99 196.94L999.09 195.57L1000.19 194.16L1001.3 192.72L1002.4 191.24L1003.5 189.72L1004.6 188.16L1005.71 186.55L1006.81 184.89L1007.91 183.18L1009.01 181.42L1010.12 179.59L1011.22 177.69L1012.32 175.73L1013.42 173.68L1014.53 171.56L1015.63 169.34L1016.73 167.01L1017.83 164.58L1018.94 162.02L1020.04 159.32L1021.14 156.47L1022.24 153.44L1023.35 150.21L1024.45 146.75L1025.55 143.02L1026.65 138.97L1027.76 134.55L1028.86 129.67L1029.62 125.96L1029.96 124.23L1031.07 118.06L1031.09 117.94L1032.17 110.96L1032.31 109.94L1033.27 102.56L1033.34 101.96L1034.2 94L1034.37 92.27L1034.93 86.06L1035.48 78.98L1035.54 78.12L1036.05 70.2L1036.47 62.29L1036.58 60.12L1036.83 54.38L1037.13 46.48L1037.39 38.59L1037.6 30.7L1037.68 27.16L1037.77 22.81L1037.92 14.93L1038.05 7.05L1038.15 -0.83L1038.24 -8.71L1038.32 -16.58L1038.38 -24.46L1038.43 -32.33L1038.47 -40.2L1038.51 -48.07L1038.54 -55.95L1038.57 -63.82L1038.59 -71.69L1038.61 -79.56L1038.62 -87.43L1038.63 -95.29L1038.64 -103.16L1038.65 -111.03L1038.66 -118.9L1038.67 -126.77L1038.67 -134.64L1038.68 -142.51L1038.68 -150.38L1038.68 -158.24L1038.69 -166.11L1038.69 -173.98L1038.69 -181.85L1038.69 -189.72L1038.69 -197.58L1038.69 -205.45L1038.7 -213.32L1038.7 -221.19L1038.7 -229.06L1038.7 -236.92L1038.7 -244.79L1038.7 -252.66L1038.7 -260.53L1038.7 -268.4L1038.7 -276.26L1038.7 -284.13L1038.7 -292L1038.7 -299.87L1038.7 -307.73L1038.7 -315.6L1038.7 -323.47L1038.7 -331.34L1038.7 -339.21L1038.7 -633.7L1038.7 -339.19L1038.7 -331.35L1038.7 -323.48L1038.7 -315.6L1038.7 -307.74L1038.7 -299.87L1038.7 -292L1038.7 -284.13L1038.7 -276.26L1038.7 -268.4L1038.7 -260.53L1038.7 -252.66L1038.7 -244.79L1038.7 -236.92L1038.7 -229.06L1038.7 -221.19L1038.7 -213.32L1038.71 -205.45L1038.71 -197.59L1038.71 -189.72L1038.71 -181.85L1038.71 -173.98L1038.71 -166.11L1038.72 -158.25L1038.72 -150.38L1038.72 -142.51L1038.73 -134.64L1038.73 -126.78L1038.74 -118.91L1038.75 -111.04L1038.76 -103.18L1038.77 -95.31L1038.78 -87.44L1038.78 -85.27L1038.79 -79.58L1038.81 -71.71L1038.83 -63.84L1038.86 -55.98L1038.89 -48.11L1038.93 -40.25L1038.97 -32.39L1039.02 -24.52L1039.08 -16.66L1039.16 -8.8L1039.25 -0.94L1039.35 6.91L1039.48 14.77L1039.63 22.62L1039.8 30.47L1039.89 33.69L1040.01 38.32L1040.27 46.16L1040.57 53.99L1040.93 61.83L1040.99 63.04L1041.35 69.65L1041.86 77.47L1042.09 80.54L1042.47 85.27L1043.19 93.04L1043.2 93.06L1044.06 100.85L1044.3 102.76L1045.09 108.61L1045.4 110.71L1046.31 116.35L1046.5 117.42L1047.6 123.23L1047.78 124.07L1048.71 128.35L1049.81 132.93L1050.91 137.06L1052.01 140.82L1053.12 144.28L1054.22 147.47L1055.32 150.44L1056.42 153.21L1057.53 155.81L1058.63 158.26L1059.73 160.56L1060.83 162.75L1061.94 164.82L1063.04 166.8L1064.14 168.68L1065.24 170.48L1066.35 172.2L1067.45 173.85L1068.55 175.43L1069.65 176.96L1070.76 178.42L1071.86 179.84L1072.96 181.21L1074.07 182.53L1075.17 183.8L1076.27 185.04L1077.37 186.24L1078.48 187.4L1079.58 188.53L1080.68 189.63L1081.78 190.69L1082.89 191.73L1083.99 192.74L1085.09 193.72L1086.19 194.68L1087.3 195.61L1088.4 196.52L1089.5 197.41L1090.6 198.28L1091.71 199.13L1092.81 199.96L1093.91 200.78L1095.01 201.57L1096.12 202.35L1097.22 203.11L1098.32 203.86L1099.42 204.59L1100.53 205.3L1101.63 206.01L1102.73 206.7L1103.83 207.37L1104.94 208.04L1106.04 208.69L1107.14 209.33L1108.24 209.96L1109.35 210.58L1110.45 211.18" fill="none" stroke="#00ff00" stroke-width="2.5" stroke-linejoin="round" stroke-linecap="butt" stroke-dasharray="5.8 5.5" clip-path="url(#clipC)"/>
<path d="M824.88 297.9L825.99 297.9L827.09 297.9L828.19 297.9L829.3 297.9L830.4 297.9L831.5 297.9L832.6 297.9L833.71 297.9L834.81 297.9L835.91 297.9L837.01 297.9L838.12 297.9L839.22 297.9L840.32 297.9L841.42 297.9L842.53 297.9L843.63 297.9L844.73 297.9L845.83 297.9L846.94 297.9L848.04 297.9L849.14 297.9L850.24 297.9L851.35 297.9L852.45 297.9L853.55 297.9L854.65 297.9L855.76 297.9L856.86 297.9L857.96 297.9L859.06 297.9L860.17 297.9L861.27 297.9L862.37 297.9L863.47 297.9L864.58 297.9L865.68 297.9L866.78 297.9L867.89 297.9L868.99 297.9L870.09 297.9L871.19 297.9L872.3 297.9L873.4 297.45L874.5 296.75L875.6 296.06L876.71 295.38L877.81 294.71L878.91 294.05L880.01 293.39L881.12 292.75L882.22 292.11L883.32 291.47L884.42 290.85L885.53 290.23L886.63 289.61L887.73 289L888.83 288.4L889.94 287.8L891.04 287.21L892.14 286.62L893.24 286.04L894.35 285.46L895.45 284.88L896.55 284.31L897.65 283.74L898.76 283.18L899.86 282.62L900.96 282.07L902.06 281.51L903.17 280.96L904.27 280.42L905.37 279.87L906.48 279.33L907.58 278.79L908.68 278.26L909.78 277.72L910.89 277.19L911.99 276.66L913.09 276.14L914.19 275.61L915.3 275.09L916.4 274.57L917.5 274.05L918.6 273.53L919.71 273.02L920.81 272.5L921.91 271.99L923.01 271.47L924.12 270.96L925.22 270.45L926.32 269.94L927.42 269.44L928.53 268.93L929.63 268.42L930.73 267.92L931.83 267.41L932.94 266.91L934.04 266.41L935.14 265.9L936.24 265.4L937.35 264.9L938.45 264.4L939.55 263.89L940.65 263.39L941.76 262.89L942.86 262.39L943.96 261.89L945.06 261.39L946.17 260.88L947.27 260.38L948.37 259.88L949.48 259.38L950.58 258.87L951.68 258.37L952.78 257.87L953.89 257.36L954.99 256.86L956.09 256.35L957.19 255.84L958.3 255.34L959.4 254.83L960.5 254.32L961.6 253.81L962.71 253.3L963.81 252.79L964.91 252.27L966.01 251.76L967.12 251.24L968.22 250.72L969.32 250.21L970.42 249.69L971.53 249.16L972.63 248.64L973.73 248.12L974.83 247.59L975.94 247.06L977.04 246.53L978.14 246L979.24 245.47L980.35 244.93L981.45 244.39L982.55 243.85L983.65 243.31L984.76 242.76L985.86 242.22L986.96 241.67L988.07 241.11L989.17 240.56L990.27 240L991.37 239.44L992.48 238.88L993.58 238.31L994.68 237.74L995.78 237.17L996.89 236.59L997.99 236.02L999.09 235.43L1000.19 234.85L1001.3 234.26L1002.4 233.66L1003.5 233.07L1004.6 232.47L1005.71 231.86L1006.81 231.25L1007.91 230.64L1009.01 230.02L1010.12 229.4L1011.22 228.77L1012.32 228.14L1013.42 227.5L1014.53 226.86L1015.63 226.21L1016.73 225.56L1017.83 224.9L1018.94 224.24L1020.04 223.57L1021.14 222.9L1022.24 222.22L1023.35 221.53L1024.45 220.83L1025.55 220.13L1026.65 219.43L1027.76 218.71L1028.86 217.99L1029.96 217.26L1031.07 216.52L1032.17 215.78L1033.27 215.02L1034.37 214.26L1035.48 213.49L1036.58 212.71L1037.68 211.92L1038.78 211.12L1039.89 210.31L1040.99 209.5L1042.09 208.67L1043.19 207.82L1044.3 206.97L1045.4 206.11L1046.5 205.23L1047.6 204.34L1048.71 203.44L1049.81 202.52L1050.91 201.59L1052.01 200.64L1053.12 199.68L1054.22 198.71L1055.32 197.71L1056.42 196.7L1057.53 195.67L1058.63 194.62L1059.73 193.55L1060.83 192.47L1061.94 191.35L1063.04 190.22L1064.14 189.06L1065.24 187.88L1066.35 186.67L1067.45 185.44L1068.55 184.17L1069.65 182.88L1070.76 181.55L1071.86 180.19L1072.96 178.79L1074.07 177.36L1075.17 175.88L1076.27 174.36L1077.37 172.79L1078.48 171.18L1079.58 169.51L1080.68 167.78L1081.78 166L1082.89 164.14L1083.99 162.22L1085.09 160.22L1086.19 158.13L1087.3 155.95L1088.4 153.67L1089.5 151.28L1090.6 148.77L1091.71 146.12L1092.81 143.31L1093.91 140.32L1095.01 137.14L1096.12 133.73L1097.22 130.06L1098.32 126.07L1099.42 121.71L1100.53 116.9L1101.37 112.83L1101.63 111.53L1102.73 105.46L1102.84 104.85L1103.83 98.47L1104.06 96.88L1104.94 90.21L1105.09 88.93L1105.95 80.99L1106.04 80.13L1106.68 73.07L1107.14 67.15L1107.29 65.15L1107.8 57.24L1108.22 49.34L1108.24 48.9L1108.58 41.45L1108.88 33.55L1109.14 25.67L1109.35 17.78L1109.35 17.76L1109.52 9.9L1109.67 2.02L1109.8 -5.86L1109.9 -13.73L1109.99 -21.61L1110.07 -29.48L1110.13 -37.35L1110.18 -45.23L1110.22 -53.1L1110.26 -60.97L1110.29 -68.84L1110.32 -76.71L1110.34 -84.58L1110.36 -92.45L1110.37 -100.32L1110.38 -108.18L1110.39 -116.05L1110.4 -123.92L1110.41 -131.79L1110.42 -139.66L1110.42 -147.53L1110.43 -155.4L1110.43 -163.26L1110.43 -171.13L1110.44 -179L1110.44 -186.87L1110.44 -194.74L1110.44 -202.6L1110.44 -210.47L1110.44 -218.34L1110.45 -226.21L1110.45 -234.08L1110.45 -241.94L1110.45 -249.81L1110.45 -257.68L1110.45 -265.55L1110.45 -273.42L1110.45 -281.28L1110.45 -289.15L1110.45 -297.02L1110.45 -304.89L1110.45 -312.75L1110.45 -320.62L1110.45 -328.49L1110.45 -336.36L1110.45 -344.23L1110.45 -352.1L1110.45 -633.7L1110.45 -633.7" fill="none" stroke="#0000ff" stroke-width="3.0" stroke-linejoin="round" stroke-linecap="butt" clip-path="url(#clipC)"/>
<path d="M824.88 297.9L825.99 297.9L827.09 297.9L828.19 297.9L829.3 297.9L830.4 297.9L831.5 297.9L832.6 297.9L833.71 297.9L834.81 297.9L835.91 297.9L837.01 297.9L838.12 297.9L839.22 297.9L840.32 297.9L841.42 297.9L842.53 297.9L843.63 297.9L844.73 297.9L845.83 297.9L846.94 297.9L848.04 297.9L849.14 297.9L850.24 297.9L851.35 297.9L852.45 297.9L853.55 297.9L854.65 297.9L855.76 297.9L856.86 297.9L857.96 297.9L859.06 297.9L860.17 297.9L861.27 297.9L862.37 297.9L863.47 297.9L864.58 297.9L865.68 297.9L866.78 297.9L867.89 297.9L868.99 297.9L870.09 297.9L871.19 297.9L872.3 297.9L873.4 297.9L874.5 297.9L875.6 297.9L876.71 297.9L877.81 297.32L878.91 296.27L880.01 295.21L881.12 294.16L882.22 293.1L883.32 292.05L884.42 290.99L885.53 289.93L886.63 288.87L887.73 287.8L888.83 286.73L889.94 285.66L891.04 284.58L892.14 283.5L893.24 282.41L894.35 281.31L895.45 280.21L896.55 279.09L897.65 277.97L898.76 276.84L899.86 275.71L900.96 274.56L902.06 273.4L903.17 272.22L904.27 271.04L905.37 269.84L906.48 268.63L907.58 267.4L908.68 266.16L909.78 264.9L910.89 263.62L911.99 262.32L913.09 261L914.19 259.67L915.3 258.3L916.4 256.92L917.5 255.51L918.6 254.07L919.71 252.6L920.81 251.11L921.91 249.58L923.01 248.01L924.12 246.41L925.22 244.77L926.32 243.09L927.42 241.36L928.53 239.58L929.63 237.75L930.73 235.87L931.83 233.92L932.94 231.91L934.04 229.82L935.14 227.66L936.24 225.41L937.35 223.06L938.45 220.61L939.55 218.05L940.65 215.36L941.76 212.53L942.86 209.53L943.96 206.35L945.06 202.96L946.17 199.33L947.27 195.42L948.37 191.18L949.48 186.53L950.58 181.39L950.96 179.49L951.68 175.65L952.42 171.37L952.78 169.11L953.65 163.29L953.89 161.53L954.67 155.24L954.99 152.49L955.54 147.23L956.09 141.25L956.26 139.24L956.87 131.27L957.19 126.37L957.38 123.31L957.81 115.37L958.17 107.45L958.3 104.18L958.47 99.53L958.72 91.62L958.93 83.72L959.11 75.82L959.26 67.93L959.38 60.04L959.4 58.9L959.49 52.15L959.57 44.27L959.65 36.39L959.71 28.51L959.76 20.64L959.81 12.76L959.84 4.89L959.87 -2.99L959.9 -10.86L959.92 -18.73L959.94 -26.6L959.95 -34.47L959.97 -42.34L959.98 -50.21L959.99 -58.08L959.99 -65.95L960 -73.82L960.01 -81.69L960.01 -89.56L960.01 -97.42L960.02 -105.29L960.02 -113.16L960.02 -121.03L960.02 -128.9L960.03 -136.77L960.03 -144.63L960.03 -152.5L960.03 -160.37L960.03 -168.24L960.03 -176.11L960.03 -183.97L960.03 -191.84L960.03 -199.71L960.03 -207.58L960.03 -215.45L960.03 -223.31L960.03 -231.18L960.03 -239.05L960.03 -246.92L960.03 -254.79L960.03 -262.65L960.03 -270.52L960.03 -278.39L960.03 -286.26L960.03 -601.13L960.03 -286.25L960.03 -278.39L960.03 -270.52L960.03 -262.65L960.03 -254.79L960.03 -246.92L960.03 -239.05L960.03 -231.18L960.03 -223.31L960.03 -215.45L960.03 -207.58L960.04 -199.71L960.04 -191.84L960.04 -183.98L960.04 -176.11L960.04 -168.24L960.04 -160.37L960.04 -152.5L960.04 -144.64L960.04 -136.77L960.04 -128.9L960.04 -121.03L960.05 -113.17L960.05 -105.3L960.05 -97.43L960.06 -89.56L960.06 -81.7L960.07 -73.83L960.07 -65.96L960.08 -58.1L960.09 -50.23L960.1 -42.36L960.11 -34.5L960.13 -26.63L960.15 -18.77L960.17 -10.9L960.19 -3.04L960.22 4.82L960.26 12.69L960.3 20.55L960.36 28.41L960.42 36.26L960.49 44.12L960.5 45L960.58 51.97L960.68 59.82L960.81 67.67L960.96 75.51L961.14 83.35L961.35 91.19L961.6 99.01L961.6 99.09L961.9 106.83L962.26 114.64L962.69 122.44L962.71 122.74L963.2 130.23L963.8 138L963.81 138.04L964.53 145.75L964.91 149.35L965.39 153.48L966.01 158.3L966.42 161.19L967.12 165.71L967.65 168.87L968.22 172.02L969.11 176.51L969.32 177.51L970.42 182.37L971.53 186.72L972.63 190.66L973.73 194.25L974.83 197.56L975.94 200.61L977.04 203.45L978.14 206.11L979.24 208.6L980.35 210.94L981.45 213.15L982.55 215.24L983.65 217.23L984.76 219.12L985.86 220.92L986.96 222.64L988.07 224.29L989.17 225.87L990.27 227.38L991.37 228.84L992.48 230.24L993.58 231.6L994.68 232.9L995.78 234.16L996.89 235.38L997.99 236.56L999.09 237.7L1000.19 238.81L1001.3 239.88L1002.4 240.92L1003.5 241.94L1004.6 242.92L1005.71 243.88L1006.81 244.81L1007.91 245.72L1009.01 246.61L1010.12 247.47L1011.22 248.32L1012.32 249.14L1013.42 249.95L1014.53 250.73L1015.63 251.5L1016.73 252.25L1017.83 252.99L1018.94 253.71L1020.04 254.41L1021.14 255.1L1022.24 255.78L1023.35 256.44L1024.45 257.09L1025.55 257.73L1026.65 258.36L1027.76 258.97L1028.86 259.57L1029.96 260.17L1031.07 260.75L1032.17 261.32L1033.27 261.88L1034.37 262.43L1035.48 262.97L1036.58 263.51L1037.68 264.03L1038.78 264.55L1039.89 265.06L1040.99 265.56L1042.09 266.05L1043.19 266.54L1044.3 267.02L1045.4 267.49L1046.5 267.95L1047.6 268.41L1048.71 268.86L1049.81 269.3L1050.91 269.74L1052.01 270.17L1053.12 270.6L1054.22 271.02L1055.32 271.43L1056.42 271.84L1057.53 272.25L1058.63 272.64L1059.73 273.04L1060.83 273.43L1061.94 273.81L1063.04 274.19L1064.14 274.56L1065.24 274.93L1066.35 275.3L1067.45 275.66L1068.55 276.02L1069.65 276.37L1070.76 276.72L1071.86 277.06L1072.96 277.4L1074.07 277.74L1075.17 278.07L1076.27 278.4L1077.37 278.72L1078.48 279.05L1079.58 279.36L1080.68 279.68L1081.78 279.99L1082.89 280.3L1083.99 280.61L1085.09 280.91L1086.19 281.21L1087.3 281.5L1088.4 281.8L1089.5 282.09L1090.6 282.37L1091.71 282.66L1092.81 282.94L1093.91 283.22L1095.01 283.49L1096.12 283.77L1097.22 284.04L1098.32 284.31L1099.42 284.57L1100.53 284.84L1101.63 285.1L1102.73 285.36L1103.83 285.61L1104.94 285.87L1106.04 286.12L1107.14 286.37L1108.24 286.62L1109.35 286.86L1110.45 287.11" fill="none" stroke="#ff8000" stroke-width="3.0" stroke-linejoin="round" stroke-linecap="butt" clip-path="url(#clipC)"/>
<path d="M824.88 297.9L825.99 297.9L827.09 297.9L828.19 297.9L829.3 297.9L830.4 297.9L831.5 297.9L832.6 297.9L833.71 297.9L834.81 297.9L835.91 297.9L837.01 297.9L838.12 297.9L839.22 297.9L840.32 297.9L841.42 297.9L842.53 297.9L843.63 297.9L844.73 297.9L845.83 297.9L846.94 297.9L848.04 297.9L849.14 297.9L850.24 297.9L851.35 297.9L852.45 297.9L853.55 297.9L854.65 297.9L855.76 297.9L856.86 297.9L857.96 297.9L859.06 297.9L860.17 297.9L861.27 297.9L862.37 297.9L863.47 297.9L864.58 297.9L865.68 297.9L866.78 297.9L867.89 297.9L868.99 297.9L870.09 297.9L871.19 297.9L872.3 297.9L873.4 297.9L874.5 297.9L875.6 297.9L876.71 297.9L877.81 297.9L878.91 297.9L880.01 297.9L881.12 297.9L882.22 297.9L883.32 297.7L884.42 296.98L885.53 296.25L886.63 295.53L887.73 294.82L888.83 294.11L889.94 293.41L891.04 292.7L892.14 292.01L893.24 291.31L894.35 290.62L895.45 289.93L896.55 289.24L897.65 288.56L898.76 287.88L899.86 287.2L900.96 286.52L902.06 285.84L903.17 285.17L904.27 284.49L905.37 283.82L906.48 283.15L907.58 282.48L908.68 281.81L909.78 281.14L910.89 280.47L911.99 279.8L913.09 279.13L914.19 278.47L915.3 277.8L916.4 277.13L917.5 276.46L918.6 275.79L919.71 275.12L920.81 274.44L921.91 273.77L923.01 273.1L924.12 272.42L925.22 271.74L926.32 271.06L927.42 270.38L928.53 269.7L929.63 269.02L930.73 268.33L931.83 267.64L932.94 266.95L934.04 266.26L935.14 265.56L936.24 264.86L937.35 264.16L938.45 263.45L939.55 262.74L940.65 262.03L941.76 261.31L942.86 260.59L943.96 259.87L945.06 259.14L946.17 258.41L947.27 257.67L948.37 256.93L949.48 256.18L950.58 255.43L951.68 254.67L952.78 253.91L953.89 253.14L954.99 252.36L956.09 251.58L957.19 250.8L958.3 250L959.4 249.2L960.5 248.39L961.6 247.58L962.71 246.75L963.81 245.92L964.91 245.08L966.01 244.23L967.12 243.38L968.22 242.51L969.32 241.63L970.42 240.75L971.53 239.85L972.63 238.94L973.73 238.02L974.83 237.09L975.94 236.15L977.04 235.19L978.14 234.23L979.24 233.24L980.35 232.25L981.45 231.24L982.55 230.21L983.65 229.17L984.76 228.11L985.86 227.03L986.96 225.93L988.07 224.82L989.17 223.68L990.27 222.52L991.37 221.34L992.48 220.14L993.58 218.91L994.68 217.66L995.78 216.38L996.89 215.07L997.99 213.73L999.09 212.36L1000.19 210.96L1001.3 209.52L1002.4 208.04L1003.5 206.52L1004.6 204.96L1005.71 203.35L1006.81 201.69L1007.91 199.98L1009.01 198.21L1010.12 196.38L1011.22 194.49L1012.32 192.52L1013.42 190.48L1014.53 188.35L1015.63 186.13L1016.73 183.81L1017.83 181.38L1018.94 178.82L1020.04 176.12L1021.14 173.26L1022.24 170.23L1023.35 167L1024.45 163.54L1025.55 159.81L1026.65 155.77L1027.76 151.34L1028.86 146.47L1029.62 142.76L1029.96 141.02L1031.07 134.86L1031.09 134.73L1032.17 127.75L1032.31 126.73L1033.27 119.35L1033.34 118.76L1034.2 110.8L1034.37 109.07L1034.93 102.85L1035.48 95.77L1035.54 94.92L1036.05 87L1036.47 79.08L1036.58 76.91L1036.83 71.18L1037.13 63.28L1037.39 55.39L1037.6 47.5L1037.68 43.95L1037.77 39.61L1037.92 31.73L1038.05 23.84L1038.15 15.97L1038.24 8.09L1038.32 0.21L1038.38 -7.66L1038.43 -15.54L1038.47 -23.41L1038.51 -31.28L1038.54 -39.15L1038.57 -47.02L1038.59 -54.89L1038.61 -62.76L1038.62 -70.63L1038.63 -78.5L1038.64 -86.37L1038.65 -94.24L1038.66 -102.11L1038.67 -109.97L1038.67 -117.84L1038.68 -125.71L1038.68 -133.58L1038.68 -141.45L1038.69 -149.32L1038.69 -157.18L1038.69 -165.05L1038.69 -172.92L1038.69 -180.79L1038.69 -188.66L1038.7 -196.52L1038.7 -204.39L1038.7 -212.26L1038.7 -220.13L1038.7 -228L1038.7 -235.86L1038.7 -243.73L1038.7 -251.6L1038.7 -259.47L1038.7 -267.34L1038.7 -275.2L1038.7 -283.07L1038.7 -290.94L1038.7 -298.81L1038.7 -306.68L1038.7 -314.55L1038.7 -322.42L1038.7 -616.9L1038.7 -322.4L1038.7 -314.55L1038.7 -306.68L1038.7 -298.81L1038.7 -290.94L1038.7 -283.07L1038.7 -275.2L1038.7 -267.34L1038.7 -259.47L1038.7 -251.6L1038.7 -243.73L1038.7 -235.86L1038.7 -228L1038.7 -220.13L1038.7 -212.26L1038.7 -204.39L1038.7 -196.53L1038.71 -188.66L1038.71 -180.79L1038.71 -172.92L1038.71 -165.05L1038.71 -157.19L1038.71 -149.32L1038.72 -141.45L1038.72 -133.58L1038.72 -125.72L1038.73 -117.85L1038.73 -109.98L1038.74 -102.11L1038.75 -94.25L1038.76 -86.38L1038.77 -78.51L1038.78 -70.65L1038.78 -68.47L1038.79 -62.78L1038.81 -54.91L1038.83 -47.05L1038.86 -39.18L1038.89 -31.32L1038.93 -23.45L1038.97 -15.59L1039.02 -7.73L1039.08 0.13L1039.16 7.99L1039.25 15.85L1039.35 23.71L1039.48 31.56L1039.63 39.42L1039.8 47.27L1039.89 50.49L1040.01 55.11L1040.27 62.95L1040.57 70.79L1040.93 78.62L1040.99 79.83L1041.35 86.44L1041.86 94.26L1042.09 97.34L1042.47 102.07L1043.19 109.84L1043.2 109.86L1044.06 117.64L1044.3 119.56L1045.09 125.4L1045.4 127.5L1046.31 133.15L1046.5 134.22L1047.6 140.03L1047.78 140.87L1048.71 145.15L1049.81 149.72L1050.91 153.85L1052.01 157.62L1053.12 161.07L1054.22 164.27L1055.32 167.24L1056.42 170.01L1057.53 172.61L1058.63 175.05L1059.73 177.36L1060.83 179.54L1061.94 181.62L1063.04 183.59L1064.14 185.47L1065.24 187.27L1066.35 188.99L1067.45 190.64L1068.55 192.23L1069.65 193.75L1070.76 195.22L1071.86 196.64L1072.96 198L1074.07 199.32L1075.17 200.6L1076.27 201.84L1077.37 203.03L1078.48 204.2L1079.58 205.32L1080.68 206.42L1081.78 207.49L1082.89 208.52L1083.99 209.53L1085.09 210.51L1086.19 211.47L1087.3 212.41L1088.4 213.32L1089.5 214.21L1090.6 215.08L1091.71 215.93L1092.81 216.76L1093.91 217.57L1095.01 218.37L1096.12 219.14L1097.22 219.9L1098.32 220.65L1099.42 221.38L1100.53 222.1L1101.63 222.8L1102.73 223.49L1103.83 224.17L1104.94 224.83L1106.04 225.48L1107.14 226.12L1108.24 226.75L1109.35 227.37L1110.45 227.98" fill="none" stroke="#00ff00" stroke-width="3.0" stroke-linejoin="round" stroke-linecap="butt" clip-path="url(#clipC)"/>
<path d="M838 38.6L858 38.6" stroke="#0000ff" stroke-width="2.8" fill="none"/>
<text x="869" y="45.6" font-size="24.5" text-anchor="start">β=0</text>
<path d="M838 78.6L858 78.6" stroke="#ff8000" stroke-width="2.8" fill="none"/>
<text x="869" y="85.9" font-size="24.5" text-anchor="start">β=0.95</text>
<path d="M838 122L858 122" stroke="#05cc14" stroke-width="2.8" fill="none"/>
<text x="869" y="128.6" font-size="24.5" text-anchor="start">β=0.8</text>
<text x="954.5" y="375" font-size="24.6" text-anchor="start"><tspan font-style="italic">C</tspan><tspan font-style="italic" font-size="17" dy="4.5" dx="-1.2">g</tspan></text>
<text transform="translate(778.5,167.2) rotate(-90)" font-size="24" text-anchor="middle">Capacity</text>
<text x="756.6" y="26.6" font-size="32.5" text-anchor="start" class="pl">(c)</text>
<rect x="1196.4" y="22.5" width="296.7" height="292" fill="none" stroke="#7b7b7b" stroke-width="1.0"/>
<path d="M1199.05 314.5v-4.1M1199.05 22.5v4.1M1213.47 314.5v-2.4M1213.47 22.5v2.4M1227.89 314.5v-2.4M1227.89 22.5v2.4M1242.31 314.5v-2.4M1242.31 22.5v2.4M1256.73 314.5v-4.1M1256.73 22.5v4.1M1271.15 314.5v-2.4M1271.15 22.5v2.4M1285.57 314.5v-2.4M1285.57 22.5v2.4M1299.99 314.5v-2.4M1299.99 22.5v2.4M1314.41 314.5v-4.1M1314.41 22.5v4.1M1328.83 314.5v-2.4M1328.83 22.5v2.4M1343.25 314.5v-2.4M1343.25 22.5v2.4M1357.67 314.5v-2.4M1357.67 22.5v2.4M1372.09 314.5v-4.1M1372.09 22.5v4.1M1386.51 314.5v-2.4M1386.51 22.5v2.4M1400.93 314.5v-2.4M1400.93 22.5v2.4M1415.35 314.5v-2.4M1415.35 22.5v2.4M1429.77 314.5v-4.1M1429.77 22.5v4.1M1444.19 314.5v-2.4M1444.19 22.5v2.4M1458.61 314.5v-2.4M1458.61 22.5v2.4M1473.03 314.5v-2.4M1473.03 22.5v2.4M1487.45 314.5v-4.1M1487.45 22.5v4.1" stroke="#7b7b7b" stroke-width="0.85" fill="none"/>
<path d="M1196.4 309.67h2.4M1493.1 309.67h-2.4M1196.4 300.2h4.1M1493.1 300.2h-4.1M1196.4 290.73h2.4M1493.1 290.73h-2.4M1196.4 281.26h2.4M1493.1 281.26h-2.4M1196.4 271.8h2.4M1493.1 271.8h-2.4M1196.4 262.33h2.4M1493.1 262.33h-2.4M1196.4 252.86h4.1M1493.1 252.86h-4.1M1196.4 243.39h2.4M1493.1 243.39h-2.4M1196.4 233.92h2.4M1493.1 233.92h-2.4M1196.4 224.46h2.4M1493.1 224.46h-2.4M1196.4 214.99h2.4M1493.1 214.99h-2.4M1196.4 205.52h4.1M1493.1 205.52h-4.1M1196.4 196.05h2.4M1493.1 196.05h-2.4M1196.4 186.58h2.4M1493.1 186.58h-2.4M1196.4 177.12h2.4M1493.1 177.12h-2.4M1196.4 167.65h2.4M1493.1 167.65h-2.4M1196.4 158.18h4.1M1493.1 158.18h-4.1M1196.4 148.71h2.4M1493.1 148.71h-2.4M1196.4 139.24h2.4M1493.1 139.24h-2.4M1196.4 129.78h2.4M1493.1 129.78h-2.4M1196.4 120.31h2.4M1493.1 120.31h-2.4M1196.4 110.84h4.1M1493.1 110.84h-4.1M1196.4 101.37h2.4M1493.1 101.37h-2.4M1196.4 91.9h2.4M1493.1 91.9h-2.4M1196.4 82.44h2.4M1493.1 82.44h-2.4M1196.4 72.97h2.4M1493.1 72.97h-2.4M1196.4 63.5h4.1M1493.1 63.5h-4.1M1196.4 54.03h2.4M1493.1 54.03h-2.4M1196.4 44.56h2.4M1493.1 44.56h-2.4M1196.4 35.1h2.4M1493.1 35.1h-2.4M1196.4 25.63h2.4M1493.1 25.63h-2.4" stroke="#7b7b7b" stroke-width="0.85" fill="none"/>
<text x="1199.05" y="339.9" text-anchor="middle" font-size="24">0.0</text>
<text x="1256.73" y="339.9" text-anchor="middle" font-size="24">0.2</text>
<text x="1314.41" y="339.9" text-anchor="middle" font-size="24">0.4</text>
<text x="1372.09" y="339.9" text-anchor="middle" font-size="24">0.6</text>
<text x="1429.77" y="339.9" text-anchor="middle" font-size="24">0.8</text>
<text x="1487.45" y="339.9" text-anchor="middle" font-size="24">1.0</text>
<text x="1190.5" y="308" text-anchor="end" font-size="24.5">0.0</text>
<text x="1190.5" y="260.66" text-anchor="end" font-size="24.5">0.5</text>
<text x="1190.5" y="213.32" text-anchor="end" font-size="24.5">1.0</text>
<text x="1190.5" y="165.98" text-anchor="end" font-size="24.5">1.5</text>
<text x="1190.5" y="118.64" text-anchor="end" font-size="24.5">2.0</text>
<text x="1190.5" y="71.3" text-anchor="end" font-size="24.5">2.5</text>
<path d="M1200.49 300.2L1201.45 300.2L1202.41 300.2L1203.37 300.2L1204.33 300.2L1205.29 300.2L1206.25 300.2L1207.21 300.2L1208.17 300.2L1209.13 300.2L1210.09 300.2L1211.05 300.2L1212.01 300.2L1212.97 300.2L1213.93 300.2L1214.89 300.2L1215.85 300.2L1216.81 300.2L1217.77 300.2L1218.73 300.2L1219.69 300.2L1220.65 300.2L1221.61 300.2L1222.57 300.2L1223.53 300.2L1224.49 300.2L1225.01 300.2L1225.15 300.2L1225.29 300.2L1225.44 300.2L1225.44 300.2L1225.58 300.2L1225.73 300.2L1225.87 300.2L1226.02 300.2L1226.16 300.2L1226.3 300.2L1226.4 300.2L1226.45 300.2L1226.59 300.2L1226.74 300.2L1226.88 300.2L1227.02 300.2L1227.17 300.2L1227.31 300.2L1227.36 300.2L1227.46 300.2L1227.6 300.2L1227.75 300.2L1227.89 299.62L1228.03 298.73L1228.18 297.84L1228.32 296.95L1228.32 296.94L1228.47 296.07L1228.61 295.19L1228.76 294.32L1228.9 293.45L1229.04 292.58L1229.19 291.71L1229.28 291.14L1229.33 290.85L1229.48 289.99L1229.62 289.14L1229.76 288.29L1229.91 287.44L1230.05 286.59L1230.2 285.75L1230.24 285.48L1230.34 284.91L1230.49 284.07L1230.63 283.24L1230.77 282.41L1231.2 279.95L1232.16 274.55L1233.12 269.27L1234.08 264.1L1235.04 259.04L1236 254.09L1236.96 249.23L1237.92 244.47L1238.88 239.8L1239.84 235.21L1240.8 230.71L1241.76 226.29L1242.72 221.94L1243.68 217.67L1244.64 213.48L1245.6 209.35L1246.56 205.29L1247.52 201.3L1248.48 197.37L1249.44 193.51L1250.4 189.7L1251.36 185.96L1252.32 182.27L1253.28 178.64L1254.24 175.07L1255.2 171.55L1256.16 168.09L1256.73 166.04L1256.87 165.53L1257.02 165.02L1257.12 164.68L1257.16 164.51L1257.31 164.01L1257.45 163.5L1257.6 162.99L1257.74 162.49L1257.88 161.99L1258.03 161.49L1258.08 161.32L1258.17 160.99L1258.32 160.49L1258.46 159.99L1258.6 159.49L1258.75 159L1258.89 158.5L1259.04 158.01L1259.04 158.01L1259.18 157.51L1259.33 157.02L1259.47 156.53L1259.61 156.04L1259.76 155.56L1259.9 155.07L1259.99 154.76L1260.05 154.59L1260.19 154.1L1260.34 153.62L1260.48 153.14L1260.62 152.65L1260.77 152.17L1260.91 151.7L1260.95 151.55L1261.06 151.22L1261.2 150.74L1261.34 150.27L1261.49 149.79L1261.63 149.32L1261.78 148.85L1261.91 148.4L1261.92 148.38L1262.07 147.91L1262.21 147.44L1262.35 146.97L1262.5 146.5L1262.64 146.04L1262.79 145.58L1262.87 145.29L1262.93 145.11L1263.07 144.65L1263.22 144.19L1263.36 143.73L1263.51 143.27L1263.65 142.81L1263.8 142.36L1263.83 142.24L1263.94 141.9L1264.08 141.45L1264.23 140.99L1264.37 140.54L1264.52 140.09L1264.66 139.64L1264.79 139.23L1264.81 139.19L1264.95 138.74L1265.09 138.3L1265.24 137.85L1265.38 137.41L1265.53 136.96L1265.67 136.52L1265.75 136.27L1265.81 136.08L1265.96 135.64L1266.1 135.2L1266.25 134.76L1266.39 134.32L1266.54 133.89L1266.68 133.45L1266.71 133.35L1266.82 133.02L1266.97 132.59L1267.11 132.15L1267.26 131.72L1267.4 131.29L1267.55 130.87L1267.67 130.49L1267.69 130.44L1267.83 130.01L1267.98 129.59L1268.12 129.16L1268.27 128.74L1268.63 127.67L1269.59 124.89L1270.55 122.17L1271.51 119.49L1272.47 116.85L1273.43 114.26L1274.39 111.72L1275.35 109.22L1276.31 106.77L1277.27 104.36L1278.23 102L1279.19 99.68L1280.15 97.41L1281.11 95.18L1282.07 93L1283.03 90.86L1283.99 88.77L1284.95 86.72L1285.91 84.71L1286.87 82.75L1287.83 80.83L1288.79 78.96L1289.75 77.13L1290.71 75.35L1291.67 73.61L1292.63 71.91L1293.59 70.26L1294.55 68.65L1295.5 67.08L1296.46 65.56L1297.42 64.08L1298.38 62.64L1299.34 61.25L1300.3 59.9L1301.26 58.59L1302.22 57.32L1303.18 56.1L1304.14 54.91L1305.1 53.77L1306.06 52.67L1307.02 51.61L1307.98 50.59L1308.94 49.61L1309.9 48.67L1310.86 47.77L1311.82 46.91L1312.78 46.09L1313.74 45.31L1314.7 44.56L1315.66 43.86L1316.62 43.19L1317.58 42.55L1318.54 41.96L1319.5 41.4L1320.46 40.87L1321.42 40.38L1322.38 39.93L1323.34 39.5L1324.3 39.12L1325.26 38.76L1326.22 38.44L1327.18 38.15L1328.14 37.89L1329.1 37.66L1330.05 37.46L1331.01 37.29L1331.97 37.16L1332.93 37.05L1333.89 36.96L1334.85 36.91L1335.81 36.88L1336.77 36.88L1337.73 36.91L1338.69 36.96L1339.65 37.04L1340.61 37.14L1341.57 37.26L1342.53 37.41L1343.49 37.58L1344.45 37.77L1345.41 37.99L1346.37 38.22L1347.33 38.48L1348.29 38.75L1349.25 39.05L1350.21 39.37L1351.17 39.7L1352.13 40.05L1353.09 40.42L1354.05 40.81L1355.01 41.21L1355.97 41.63L1356.93 42.06L1357.89 42.51L1358.85 42.98L1359.81 43.45L1360.77 43.95L1361.73 44.45L1362.69 44.97L1363.65 45.5L1364.61 46.05L1365.56 46.6L1366.52 47.17L1367.48 47.75L1368.44 48.34L1369.4 48.94L1370.36 49.54L1371.32 50.16L1372.28 50.79L1373.24 51.43L1374.2 52.07L1375.16 52.73L1376.12 53.39L1377.08 54.06L1378.04 54.73L1379 55.42L1379.96 56.11L1380.92 56.8L1381.88 57.5L1382.84 58.21L1383.8 58.93L1384.76 59.65L1385.72 60.37L1386.68 61.1L1387.64 61.84L1388.6 62.57L1389.56 63.32L1390.52 64.06L1391.48 64.82L1392.44 65.57L1393.4 66.33L1394.36 67.09L1395.32 67.85L1396.28 68.62L1397.24 69.39L1398.2 70.16L1399.16 70.94L1400.11 71.72L1401.07 72.49L1402.03 73.28L1402.99 74.06L1403.95 74.84L1404.91 75.63L1405.87 76.42L1406.83 77.2L1407.79 77.99L1408.75 78.78L1409.71 79.58L1410.67 80.37L1411.63 81.16L1412.59 81.95L1413.55 82.75L1414.51 83.54L1415.47 84.33L1416.43 85.13L1417.39 85.92L1418.35 86.72L1419.31 87.51L1420.27 88.3L1421.23 89.1L1422.19 89.89L1423.15 90.68L1424.11 91.48L1425.07 92.27L1426.03 93.06L1426.99 93.85L1427.95 94.64L1428.91 95.43L1429.87 96.21L1430.83 97L1431.79 97.79L1432.75 98.57L1433.71 99.35L1434.67 100.14L1435.62 100.92L1436.58 101.7L1437.54 102.48L1438.5 103.25L1439.46 104.03L1440.42 104.8L1441.38 105.58L1442.34 106.35L1443.3 107.12L1444.26 107.89L1445.22 108.65L1446.18 109.42L1447.14 110.18L1448.1 110.95L1449.06 111.71L1450.02 112.46L1450.98 113.22L1451.94 113.98L1452.9 114.73L1453.86 115.48L1454.82 116.23L1455.78 116.98L1456.74 117.73L1457.7 118.47L1458.66 119.21L1459.62 119.95L1460.58 120.69L1461.54 121.43L1462.5 122.16L1463.46 122.9L1464.42 123.63L1465.38 124.36L1466.34 125.08L1467.3 125.81L1468.26 126.53L1469.22 127.25L1470.17 127.97L1471.13 128.69L1472.09 129.4L1473.05 130.11L1474.01 130.82L1474.97 131.53L1475.93 132.24L1476.89 132.94L1477.85 133.65L1478.81 134.35L1479.77 135.05L1480.73 135.74L1481.69 136.44L1482.65 137.13L1483.61 137.82L1484.57 138.51L1485.53 139.19L1486.49 139.88L1487.45 140.56" fill="none" stroke="#ff8000" stroke-width="2.5" stroke-linejoin="round" stroke-linecap="butt" stroke-dasharray="5.8 5.5"/>
<path d="M1200.49 300.2L1201.45 300.2L1202.41 300.2L1203.37 300.2L1204.33 300.2L1205.29 300.2L1206.25 300.2L1207.21 300.2L1208.17 300.2L1209.13 300.2L1210.09 300.2L1211.05 300.2L1212.01 300.2L1212.97 300.2L1213.93 300.2L1214.89 300.2L1215.85 300.2L1216.81 300.2L1217.77 300.2L1218.73 300.2L1219.69 300.2L1220.65 300.2L1221.61 300.2L1222.57 300.2L1223.53 300.2L1224.49 300.2L1225.01 300.2L1225.15 300.2L1225.29 300.2L1225.44 300.2L1225.44 300.2L1225.58 300.2L1225.73 300.2L1225.87 300.2L1226.02 300.2L1226.16 300.2L1226.3 300.2L1226.4 300.2L1226.45 300.2L1226.59 300.2L1226.74 300.2L1226.88 300.2L1227.02 300.2L1227.17 300.2L1227.31 300.2L1227.36 300.2L1227.46 300.2L1227.6 300.2L1227.75 300.2L1227.89 300.2L1228.03 300.2L1228.18 300.2L1228.32 300.2L1228.32 300.2L1228.47 300.2L1228.61 300.2L1228.76 300.2L1228.9 300.2L1229.04 300.2L1229.19 300.2L1229.28 300.2L1229.33 300.2L1229.48 300.2L1229.62 300.2L1229.76 300.2L1229.91 300.2L1230.05 300.2L1230.2 300.2L1230.24 300.2L1230.34 300.2L1230.49 300.2L1230.63 300.2L1230.77 300.2L1231.2 300.2L1232.16 300.2L1233.12 300.2L1234.08 300.2L1235.04 300.2L1236 300.2L1236.96 300.2L1237.92 300.2L1238.88 300.2L1239.84 300.2L1240.8 300.2L1241.76 300.2L1242.72 300.2L1243.68 300.2L1244.64 300.2L1245.6 300.2L1246.56 300.2L1247.52 300.2L1248.48 300.2L1249.44 300.2L1250.4 300.2L1251.36 300.2L1252.32 300.2L1253.28 300.2L1254.24 300.2L1255.2 300.2L1256.16 300.2L1256.73 300.2L1256.87 300.2L1257.02 300.2L1257.12 300.2L1257.16 300.2L1257.31 300.2L1257.45 300.2L1257.6 300.2L1257.74 300.2L1257.88 300.2L1258.03 300.2L1258.08 300.2L1258.17 300.2L1258.32 300.2L1258.46 300.2L1258.6 300.2L1258.75 300.2L1258.89 300.2L1259.04 300.2L1259.04 300.2L1259.18 300.2L1259.33 300.2L1259.47 300.15L1259.61 299.73L1259.76 299.3L1259.9 298.88L1259.99 298.6L1260.05 298.45L1260.19 298.03L1260.34 297.61L1260.48 297.19L1260.62 296.77L1260.77 296.35L1260.91 295.93L1260.95 295.8L1261.06 295.51L1261.2 295.09L1261.34 294.68L1261.49 294.26L1261.63 293.85L1261.78 293.43L1261.91 293.04L1261.92 293.02L1262.07 292.61L1262.21 292.19L1262.35 291.78L1262.5 291.37L1262.64 290.96L1262.79 290.55L1262.87 290.3L1262.93 290.14L1263.07 289.74L1263.22 289.33L1263.36 288.92L1263.51 288.52L1263.65 288.11L1263.8 287.71L1263.83 287.6L1263.94 287.31L1264.08 286.9L1264.23 286.5L1264.37 286.1L1264.52 285.7L1264.66 285.3L1264.79 284.93L1264.81 284.9L1264.95 284.5L1265.09 284.1L1265.24 283.71L1265.38 283.31L1265.53 282.91L1265.67 282.52L1265.75 282.29L1265.81 282.12L1265.96 281.73L1266.1 281.34L1266.25 280.94L1266.39 280.55L1266.54 280.16L1266.68 279.77L1266.71 279.68L1266.82 279.38L1266.97 278.99L1267.11 278.6L1267.26 278.21L1267.4 277.83L1267.55 277.44L1267.67 277.1L1267.69 277.05L1267.83 276.67L1267.98 276.28L1268.12 275.9L1268.27 275.51L1268.63 274.54L1269.59 272.01L1270.55 269.51L1271.51 267.04L1272.47 264.59L1273.43 262.16L1274.39 259.76L1275.35 257.38L1276.31 255.03L1277.27 252.7L1278.23 250.39L1279.19 248.1L1280.15 245.83L1281.11 243.58L1282.07 241.36L1283.03 239.15L1283.99 236.96L1284.95 234.79L1285.91 232.65L1286.87 230.51L1287.83 228.4L1288.79 226.31L1289.75 224.23L1290.71 222.17L1291.67 220.13L1292.63 218.1L1293.59 216.09L1294.55 214.1L1295.5 212.12L1296.46 210.16L1297.42 208.21L1298.38 206.28L1299.34 204.37L1300.3 202.47L1301.26 200.58L1302.22 198.71L1303.18 196.85L1304.14 195.01L1305.1 193.18L1306.06 191.36L1307.02 189.56L1307.98 187.77L1308.94 186L1309.9 184.23L1310.86 182.49L1311.82 180.75L1312.78 179.03L1313.74 177.32L1314.7 175.62L1315.66 173.94L1316.62 172.26L1317.58 170.6L1318.54 168.95L1319.5 167.32L1320.46 165.7L1321.42 164.08L1322.38 162.48L1323.34 160.89L1324.3 159.32L1325.26 157.75L1326.22 156.2L1327.18 154.66L1328.14 153.13L1329.1 151.61L1330.05 150.1L1331.01 148.6L1331.97 147.12L1332.93 145.64L1333.89 144.18L1334.85 142.73L1335.81 141.28L1336.77 139.85L1337.73 138.43L1338.69 137.03L1339.65 135.63L1340.61 134.24L1341.57 132.86L1342.53 131.5L1343.49 130.14L1344.45 128.8L1345.41 127.46L1346.37 126.14L1347.33 124.82L1348.29 123.52L1349.25 122.23L1350.21 120.95L1351.17 119.68L1352.13 118.42L1353.09 117.16L1354.05 115.92L1355.01 114.69L1355.97 113.48L1356.93 112.27L1357.89 111.07L1358.85 109.88L1359.81 108.7L1360.77 107.53L1361.73 106.37L1362.69 105.23L1363.65 104.09L1364.61 102.96L1365.56 101.84L1366.52 100.74L1367.48 99.64L1368.44 98.55L1369.4 97.48L1370.36 96.41L1371.32 95.35L1372.28 94.31L1373.24 93.27L1374.2 92.25L1375.16 91.23L1376.12 90.22L1377.08 89.23L1378.04 88.24L1379 87.27L1379.96 86.3L1380.92 85.35L1381.88 84.4L1382.84 83.46L1383.8 82.54L1384.76 81.62L1385.72 80.72L1386.68 79.82L1387.64 78.94L1388.6 78.06L1389.56 77.2L1390.52 76.34L1391.48 75.5L1392.44 74.66L1393.4 73.84L1394.36 73.02L1395.32 72.21L1396.28 71.42L1397.24 70.63L1398.2 69.86L1399.16 69.09L1400.11 68.33L1401.07 67.59L1402.03 66.85L1402.99 66.12L1403.95 65.41L1404.91 64.7L1405.87 64L1406.83 63.31L1407.79 62.63L1408.75 61.96L1409.71 61.31L1410.67 60.66L1411.63 60.02L1412.59 59.39L1413.55 58.77L1414.51 58.16L1415.47 57.55L1416.43 56.96L1417.39 56.38L1418.35 55.81L1419.31 55.24L1420.27 54.69L1421.23 54.14L1422.19 53.61L1423.15 53.08L1424.11 52.57L1425.07 52.06L1426.03 51.56L1426.99 51.07L1427.95 50.59L1428.91 50.12L1429.87 49.66L1430.83 49.2L1431.79 48.76L1432.75 48.33L1433.71 47.9L1434.67 47.48L1435.62 47.08L1436.58 46.68L1437.54 46.29L1438.5 45.9L1439.46 45.53L1440.42 45.17L1441.38 44.81L1442.34 44.46L1443.3 44.12L1444.26 43.79L1445.22 43.47L1446.18 43.16L1447.14 42.85L1448.1 42.56L1449.06 42.27L1450.02 41.99L1450.98 41.72L1451.94 41.45L1452.9 41.2L1453.86 40.95L1454.82 40.71L1455.78 40.48L1456.74 40.25L1457.7 40.03L1458.66 39.83L1459.62 39.62L1460.58 39.43L1461.54 39.24L1462.5 39.07L1463.46 38.9L1464.42 38.73L1465.38 38.58L1466.34 38.43L1467.3 38.28L1468.26 38.15L1469.22 38.02L1470.17 37.9L1471.13 37.79L1472.09 37.68L1473.05 37.58L1474.01 37.49L1474.97 37.41L1475.93 37.33L1476.89 37.25L1477.85 37.19L1478.81 37.13L1479.77 37.08L1480.73 37.03L1481.69 36.99L1482.65 36.96L1483.61 36.93L1484.57 36.91L1485.53 36.89L1486.49 36.88L1487.45 36.88" fill="none" stroke="#0000ff" stroke-width="3.0" stroke-linejoin="round" stroke-linecap="butt"/>
<path d="M1200.49 300.2L1201.45 300.2L1202.41 300.2L1203.37 300.2L1204.33 300.2L1205.29 300.2L1206.25 300.2L1207.21 300.2L1208.17 300.2L1209.13 300.2L1210.09 300.2L1211.05 300.2L1212.01 300.2L1212.97 300.2L1213.93 300.2L1214.89 300.2L1215.85 300.2L1216.81 300.2L1217.77 300.2L1218.73 300.2L1219.69 300.2L1220.65 300.2L1221.61 300.2L1222.57 300.2L1223.53 300.2L1224.49 300.2L1225.01 300.2L1225.15 300.2L1225.29 300.2L1225.44 300.2L1225.44 300.2L1225.58 300.2L1225.73 300.2L1225.87 300.2L1226.02 300.2L1226.16 300.2L1226.3 300.2L1226.4 300.2L1226.45 300.2L1226.59 300.2L1226.74 300.2L1226.88 300.2L1227.02 300.2L1227.17 300.2L1227.31 300.2L1227.36 300.2L1227.46 300.2L1227.6 300.2L1227.75 300.2L1227.89 300.2L1228.03 300.2L1228.18 300.2L1228.32 300.2L1228.32 300.2L1228.47 300.2L1228.61 300.2L1228.76 300.2L1228.9 300.2L1229.04 300.2L1229.19 300.2L1229.28 300.2L1229.33 300.2L1229.48 300.2L1229.62 300.2L1229.76 300.2L1229.91 300.2L1230.05 300.2L1230.2 300.2L1230.24 300.2L1230.34 300.2L1230.49 300.2L1230.63 300.2L1230.77 300.2L1231.2 300.2L1232.16 300.2L1233.12 300.2L1234.08 300.2L1235.04 300.2L1236 300.2L1236.96 300.2L1237.92 300.2L1238.88 300.2L1239.84 300.2L1240.8 300.2L1241.76 300.2L1242.72 300.2L1243.68 300.2L1244.64 300.2L1245.6 300.2L1246.56 300.2L1247.52 300.2L1248.48 300.2L1249.44 300.2L1250.4 300.2L1251.36 300.2L1252.32 300.2L1253.28 300.2L1254.24 300.2L1255.2 300.2L1256.16 300.2L1256.73 300.2L1256.87 300.2L1257.02 300.2L1257.12 300.2L1257.16 300.2L1257.31 300.2L1257.45 300.2L1257.6 300.2L1257.74 300.2L1257.88 300.2L1258.03 300.2L1258.08 300.2L1258.17 300.2L1258.32 300.2L1258.46 300.2L1258.6 300.2L1258.75 300.2L1258.89 300.2L1259.04 300.2L1259.04 300.2L1259.18 300.2L1259.33 300.2L1259.47 300.2L1259.61 300.2L1259.76 300.2L1259.9 300.2L1259.99 300.2L1260.05 300.2L1260.19 300.2L1260.34 300.2L1260.48 300.2L1260.62 300.2L1260.77 300.2L1260.91 300.2L1260.95 300.2L1261.06 300.2L1261.2 300.2L1261.34 300.2L1261.49 300.2L1261.63 300.2L1261.78 300.2L1261.91 300.2L1261.92 300.2L1262.07 300.2L1262.21 300.2L1262.35 300.2L1262.5 300.2L1262.64 300.2L1262.79 300.2L1262.87 300.2L1262.93 300.2L1263.07 300.2L1263.22 300.2L1263.36 300.2L1263.51 300.2L1263.65 300.2L1263.8 300.2L1263.83 300.2L1263.94 300.2L1264.08 299.98L1264.23 299.37L1264.37 298.77L1264.52 298.16L1264.66 297.55L1264.79 296.99L1264.81 296.94L1264.95 296.34L1265.09 295.73L1265.24 295.13L1265.38 294.53L1265.53 293.92L1265.67 293.32L1265.75 292.97L1265.81 292.72L1265.96 292.12L1266.1 291.52L1266.25 290.92L1266.39 290.32L1266.54 289.72L1266.68 289.13L1266.71 288.99L1266.82 288.53L1266.97 287.94L1267.11 287.34L1267.26 286.75L1267.4 286.15L1267.55 285.56L1267.67 285.04L1267.69 284.97L1267.83 284.38L1267.98 283.79L1268.12 283.2L1268.27 282.61L1268.63 281.12L1269.59 277.23L1270.55 273.38L1271.51 269.56L1272.47 265.77L1273.43 262.02L1274.39 258.3L1275.35 254.61L1276.31 250.96L1277.27 247.34L1278.23 243.75L1279.19 240.21L1280.15 236.7L1281.11 233.22L1282.07 229.78L1283.03 226.38L1283.99 223.02L1284.95 219.7L1285.91 216.42L1286.87 213.18L1287.83 209.98L1288.79 206.83L1289.75 203.72L1290.71 200.65L1291.67 197.63L1292.63 194.65L1293.59 191.73L1294.55 188.85L1295.5 186.03L1296.46 183.25L1297.42 180.53L1298.38 177.86L1299.34 175.24L1300.3 172.68L1301.26 170.18L1302.22 167.74L1303.18 165.35L1304.14 163.03L1305.1 160.76L1306.06 158.56L1307.02 156.43L1307.98 154.35L1308.94 152.34L1309.9 150.4L1310.86 148.53L1311.82 146.72L1312.78 144.98L1313.74 143.31L1314.7 141.72L1315.66 140.19L1316.62 138.73L1317.58 137.35L1318.54 136.03L1319.5 134.79L1320.46 133.62L1321.42 132.52L1322.38 131.5L1323.34 130.55L1324.3 129.67L1325.26 128.86L1326.22 128.12L1327.18 127.46L1328.14 126.86L1329.1 126.34L1330.05 125.88L1331.01 125.49L1331.97 125.17L1332.93 124.91L1333.89 124.72L1334.85 124.6L1335.81 124.54L1336.77 124.54L1337.73 124.6L1338.69 124.72L1339.65 124.89L1340.61 125.13L1341.57 125.41L1342.53 125.76L1343.49 126.15L1344.45 126.6L1345.41 127.09L1346.37 127.63L1347.33 128.22L1348.29 128.85L1349.25 129.52L1350.21 130.23L1351.17 130.99L1352.13 131.78L1353.09 132.61L1354.05 133.47L1355.01 134.37L1355.97 135.3L1356.93 136.26L1357.89 137.25L1358.85 138.27L1359.81 139.31L1360.77 140.38L1361.73 141.48L1362.69 142.59L1363.65 143.73L1364.61 144.89L1365.56 146.06L1366.52 147.26L1367.48 148.47L1368.44 149.7L1369.4 150.95L1370.36 152.2L1371.32 153.48L1372.28 154.76L1373.24 156.05L1374.2 157.36L1375.16 158.67L1376.12 160L1377.08 161.33L1378.04 162.67L1379 164.02L1379.96 165.37L1380.92 166.73L1381.88 168.09L1382.84 169.46L1383.8 170.83L1384.76 172.21L1385.72 173.58L1386.68 174.96L1387.64 176.35L1388.6 177.73L1389.56 179.11L1390.52 180.5L1391.48 181.88L1392.44 183.27L1393.4 184.65L1394.36 186.04L1395.32 187.42L1396.28 188.8L1397.24 190.18L1398.2 191.56L1399.16 192.94L1400.11 194.31L1401.07 195.68L1402.03 197.05L1402.99 198.41L1403.95 199.77L1404.91 201.13L1405.87 202.48L1406.83 203.84L1407.79 205.18L1408.75 206.52L1409.71 207.86L1410.67 209.2L1411.63 210.53L1412.59 211.85L1413.55 213.17L1414.51 214.49L1415.47 215.8L1416.43 217.1L1417.39 218.4L1418.35 219.7L1419.31 220.99L1420.27 222.28L1421.23 223.56L1422.19 224.83L1423.15 226.1L1424.11 227.36L1425.07 228.62L1426.03 229.88L1426.99 231.12L1427.95 232.37L1428.91 233.6L1429.87 234.83L1430.83 236.06L1431.79 237.28L1432.75 238.49L1433.71 239.7L1434.67 240.9L1435.62 242.1L1436.58 243.29L1437.54 244.48L1438.5 245.66L1439.46 246.83L1440.42 248L1441.38 249.17L1442.34 250.33L1443.3 251.48L1444.26 252.62L1445.22 253.77L1446.18 254.9L1447.14 256.03L1448.1 257.16L1449.06 258.27L1450.02 259.39L1450.98 260.5L1451.94 261.6L1452.9 262.7L1453.86 263.79L1454.82 264.87L1455.78 265.95L1456.74 267.03L1457.7 268.1L1458.66 269.17L1459.62 270.22L1460.58 271.28L1461.54 272.33L1462.5 273.37L1463.46 274.41L1464.42 275.44L1465.38 276.47L1466.34 277.5L1467.3 278.52L1468.26 279.53L1469.22 280.54L1470.17 281.54L1471.13 282.54L1472.09 283.53L1473.05 284.52L1474.01 285.51L1474.97 286.48L1475.93 287.46L1476.89 288.43L1477.85 289.39L1478.81 290.35L1479.77 291.31L1480.73 292.26L1481.69 293.21L1482.65 294.15L1483.61 295.08L1484.57 296.02L1485.53 296.95L1486.49 297.87L1487.45 298.79" fill="none" stroke="#ff8000" stroke-width="3.0" stroke-linejoin="round" stroke-linecap="butt"/>
<path d="M1301 250.6L1357 250.6" stroke="#0000ff" stroke-width="2.8" fill="none"/>
<text x="1372.6" y="258" font-size="25" text-anchor="start" letter-spacing="-0.35">β=0</text>
<path d="M1301 295.3L1357 295.3" stroke="#ff8000" stroke-width="2.8" fill="none"/>
<text x="1372.6" y="301" font-size="25" text-anchor="start" letter-spacing="-0.35">β=0.95</text>
<text x="1331" y="373.2" font-size="24.4" text-anchor="start"><tspan font-style="italic">C</tspan><tspan font-style="italic" font-size="17" dy="4.5" dx="-1">g</tspan></text>
<text transform="translate(1151,168) rotate(-90)" font-size="24" text-anchor="middle">Capacity</text>
<text x="1129.2" y="26.5" font-size="32.3" text-anchor="start" class="pl">(d)</text>
</svg>
</body></html>
